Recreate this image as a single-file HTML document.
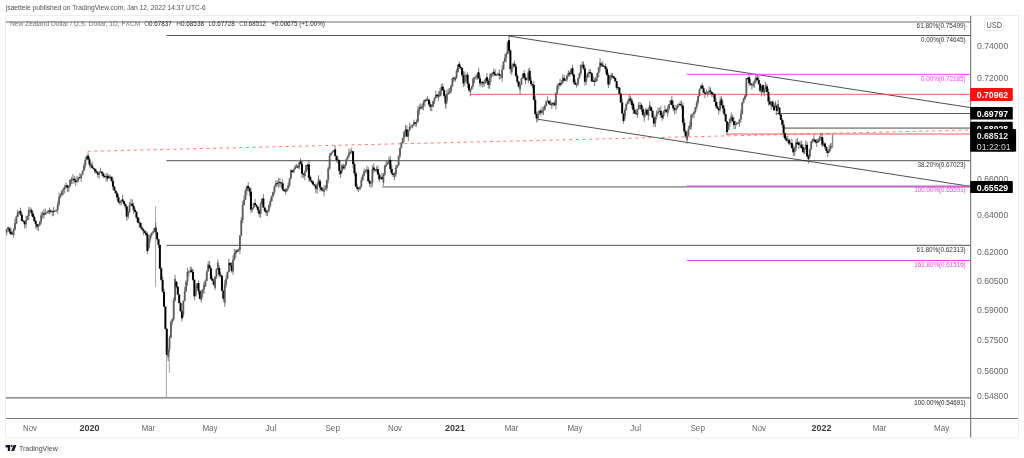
<!DOCTYPE html>
<html><head><meta charset="utf-8"><title>NZDUSD</title>
<style>
html,body{margin:0;padding:0;background:#fff;}
body{width:1024px;height:458px;overflow:hidden;font-family:'Liberation Sans',sans-serif;}
svg{display:block;font-family:'Liberation Sans',sans-serif;will-change:transform;transform:translateZ(0);}
svg text{font-family:'Liberation Sans',sans-serif;}
</style></head>
<body>
<svg width="1024" height="458" viewBox="0 0 1024 458">
<rect width="1024" height="458" fill="#fff"/>
<rect x="5.5" y="15.5" width="1013" height="422.5" fill="#fff" stroke="#eceef3" stroke-width="1"/>
<g stroke="#707070" stroke-width="1.2"><line x1="6" y1="22" x2="970.5" y2="22"/><line x1="6" y1="397.8" x2="970.5" y2="397.8"/><line x1="166.5" y1="160.7" x2="970.5" y2="160.7"/><line x1="166.5" y1="245.3" x2="970.5" y2="245.3"/></g>
<g stroke="#2a2a2a" stroke-width="0.8"><line x1="166.3" y1="35.5" x2="970.5" y2="35.5"/><line x1="382.3" y1="186.9" x2="970.5" y2="186.9"/><line x1="775.4" y1="113.5" x2="970.5" y2="113.5"/></g>
<g stroke="#222" stroke-width="0.8"><line x1="508.5" y1="36" x2="970.5" y2="107.6"/><line x1="537.5" y1="119.2" x2="970.5" y2="186.4"/></g>
<line x1="784" y1="128.2" x2="970.5" y2="128.2" stroke="#999" stroke-width="1.8"/>
<g stroke="#ff3ef0" stroke-width="1"><line x1="686.7" y1="74.3" x2="970.5" y2="74.3"/><line x1="686.7" y1="186" x2="970.5" y2="186"/><line x1="686.7" y1="260.5" x2="970.5" y2="260.5"/></g>
<g stroke="#ff4545" stroke-width="0.9"><line x1="469.7" y1="94.3" x2="970.5" y2="94.3"/><line x1="726.3" y1="134" x2="970.5" y2="134"/></g>
<line x1="87.7" y1="151.3" x2="970.5" y2="130" stroke="#ff5252" stroke-width="0.8" stroke-dasharray="2.9 3.7"/>
<g stroke="#666" stroke-width="0.85"><line x1="6.69" y1="228.55" x2="6.69" y2="235.50"/><line x1="8.07" y1="226.40" x2="8.07" y2="229.52"/><line x1="9.45" y1="227.79" x2="9.45" y2="233.89"/><line x1="10.83" y1="227.49" x2="10.83" y2="235.35"/><line x1="12.21" y1="231.35" x2="12.21" y2="235.05"/><line x1="13.59" y1="227.94" x2="13.59" y2="237.64"/><line x1="14.97" y1="218.80" x2="14.97" y2="230.94"/><line x1="16.35" y1="215.22" x2="16.35" y2="224.16"/><line x1="17.73" y1="209.80" x2="17.73" y2="217.32"/><line x1="19.11" y1="210.84" x2="19.11" y2="212.90"/><line x1="20.49" y1="207.66" x2="20.49" y2="215.77"/><line x1="21.87" y1="212.57" x2="21.87" y2="221.07"/><line x1="23.25" y1="219.71" x2="23.25" y2="222.30"/><line x1="24.63" y1="220.54" x2="24.63" y2="228.50"/><line x1="26.01" y1="215.80" x2="26.01" y2="228.00"/><line x1="27.39" y1="215.31" x2="27.39" y2="220.30"/><line x1="28.77" y1="207.07" x2="28.77" y2="220.11"/><line x1="30.15" y1="207.06" x2="30.15" y2="211.99"/><line x1="31.53" y1="208.50" x2="31.53" y2="216.30"/><line x1="32.91" y1="211.10" x2="32.91" y2="217.50"/><line x1="34.29" y1="215.40" x2="34.29" y2="221.93"/><line x1="35.67" y1="219.93" x2="35.67" y2="228.32"/><line x1="37.05" y1="223.82" x2="37.05" y2="230.07"/><line x1="38.43" y1="224.11" x2="38.43" y2="231.17"/><line x1="39.81" y1="220.78" x2="39.81" y2="225.90"/><line x1="41.19" y1="212.36" x2="41.19" y2="223.98"/><line x1="42.57" y1="211.20" x2="42.57" y2="218.36"/><line x1="43.95" y1="209.10" x2="43.95" y2="218.70"/><line x1="45.33" y1="208.52" x2="45.33" y2="215.10"/><line x1="46.71" y1="211.76" x2="46.71" y2="213.96"/><line x1="48.09" y1="210.15" x2="48.09" y2="213.79"/><line x1="49.47" y1="207.62" x2="49.47" y2="214.34"/><line x1="50.85" y1="209.41" x2="50.85" y2="213.31"/><line x1="52.23" y1="210.13" x2="52.23" y2="216.23"/><line x1="53.61" y1="206.81" x2="53.61" y2="216.11"/><line x1="54.99" y1="210.32" x2="54.99" y2="212.12"/><line x1="56.37" y1="209.31" x2="56.37" y2="212.16"/><line x1="57.75" y1="201.31" x2="57.75" y2="213.90"/><line x1="59.13" y1="192.64" x2="59.13" y2="205.81"/><line x1="60.51" y1="193.03" x2="60.51" y2="198.34"/><line x1="61.89" y1="190.48" x2="61.89" y2="195.53"/><line x1="63.27" y1="187.65" x2="63.27" y2="194.98"/><line x1="64.65" y1="184.88" x2="64.65" y2="193.35"/><line x1="66.03" y1="182.26" x2="66.03" y2="188.58"/><line x1="67.41" y1="184.65" x2="67.41" y2="191.87"/><line x1="68.79" y1="185.90" x2="68.79" y2="192.03"/><line x1="70.17" y1="179.19" x2="70.17" y2="186.80"/><line x1="71.55" y1="176.93" x2="71.55" y2="183.90"/><line x1="72.93" y1="174.11" x2="72.93" y2="183.78"/><line x1="74.31" y1="175.89" x2="74.31" y2="183.37"/><line x1="75.69" y1="177.37" x2="75.69" y2="186.20"/><line x1="77.07" y1="175.69" x2="77.07" y2="183.19"/><line x1="78.45" y1="177.21" x2="78.45" y2="182.09"/><line x1="79.83" y1="173.04" x2="79.83" y2="178.44"/><line x1="81.21" y1="174.14" x2="81.21" y2="182.07"/><line x1="82.59" y1="170.23" x2="82.59" y2="175.04"/><line x1="83.97" y1="163.18" x2="83.97" y2="171.13"/><line x1="85.35" y1="157.02" x2="85.35" y2="168.38"/><line x1="86.73" y1="155.39" x2="86.73" y2="160.62"/><line x1="88.11" y1="152.60" x2="88.11" y2="160.28"/><line x1="89.49" y1="157.08" x2="89.49" y2="167.47"/><line x1="90.87" y1="162.97" x2="90.87" y2="168.69"/><line x1="92.25" y1="161.49" x2="92.25" y2="168.18"/><line x1="93.63" y1="167.58" x2="93.63" y2="169.50"/><line x1="95.01" y1="168.20" x2="95.01" y2="173.55"/><line x1="96.39" y1="169.15" x2="96.39" y2="173.20"/><line x1="97.77" y1="171.10" x2="97.77" y2="177.45"/><line x1="99.15" y1="171.14" x2="99.15" y2="178.80"/><line x1="100.53" y1="167.70" x2="100.53" y2="172.46"/><line x1="101.91" y1="171.38" x2="101.91" y2="175.69"/><line x1="103.29" y1="172.49" x2="103.29" y2="177.75"/><line x1="104.67" y1="175.00" x2="104.67" y2="178.07"/><line x1="106.05" y1="173.12" x2="106.05" y2="181.22"/><line x1="107.43" y1="173.29" x2="107.43" y2="181.55"/><line x1="108.81" y1="174.36" x2="108.81" y2="178.77"/><line x1="110.19" y1="174.60" x2="110.19" y2="178.77"/><line x1="111.57" y1="176.50" x2="111.57" y2="182.37"/><line x1="112.95" y1="177.87" x2="112.95" y2="189.72"/><line x1="114.33" y1="185.72" x2="114.33" y2="190.91"/><line x1="115.71" y1="190.31" x2="115.71" y2="193.86"/><line x1="117.09" y1="191.76" x2="117.09" y2="200.32"/><line x1="118.47" y1="194.32" x2="118.47" y2="203.45"/><line x1="119.85" y1="201.47" x2="119.85" y2="205.36"/><line x1="121.23" y1="199.82" x2="121.23" y2="205.49"/><line x1="122.61" y1="194.56" x2="122.61" y2="202.22"/><line x1="123.99" y1="200.51" x2="123.99" y2="205.44"/><line x1="125.37" y1="203.64" x2="125.37" y2="209.51"/><line x1="126.75" y1="205.51" x2="126.75" y2="220.73"/><line x1="128.13" y1="210.33" x2="128.13" y2="219.10"/><line x1="129.51" y1="202.30" x2="129.51" y2="213.33"/><line x1="130.89" y1="198.92" x2="130.89" y2="205.60"/><line x1="132.27" y1="199.43" x2="132.27" y2="206.92"/><line x1="133.65" y1="202.92" x2="133.65" y2="213.99"/><line x1="135.03" y1="207.59" x2="135.03" y2="212.12"/><line x1="136.41" y1="211.22" x2="136.41" y2="218.85"/><line x1="137.79" y1="216.75" x2="137.79" y2="223.37"/><line x1="139.17" y1="218.02" x2="139.17" y2="227.32"/><line x1="140.55" y1="222.36" x2="140.55" y2="228.17"/><line x1="141.93" y1="226.07" x2="141.93" y2="229.88"/><line x1="143.31" y1="228.28" x2="143.31" y2="235.31"/><line x1="144.69" y1="230.11" x2="144.69" y2="233.28"/><line x1="146.07" y1="230.78" x2="146.07" y2="236.23"/><line x1="147.45" y1="232.20" x2="147.45" y2="254.20"/><line x1="148.83" y1="238.40" x2="148.83" y2="249.29"/><line x1="150.21" y1="233.86" x2="150.21" y2="242.43"/><line x1="151.59" y1="232.53" x2="151.59" y2="237.56"/><line x1="152.97" y1="230.92" x2="152.97" y2="234.40"/><line x1="154.35" y1="228.08" x2="154.35" y2="232.12"/><line x1="155.73" y1="222.64" x2="155.73" y2="234.52"/><line x1="157.11" y1="231.72" x2="157.11" y2="240.69"/><line x1="158.49" y1="238.89" x2="158.49" y2="247.88"/><line x1="159.87" y1="244.58" x2="159.87" y2="269.11"/><line x1="161.25" y1="267.01" x2="161.25" y2="281.34"/><line x1="162.63" y1="276.84" x2="162.63" y2="292.65"/><line x1="164.01" y1="288.65" x2="164.01" y2="306.88"/><line x1="165.39" y1="306.28" x2="165.39" y2="329.48"/><line x1="166.77" y1="327.88" x2="166.77" y2="355.53"/><line x1="168.15" y1="348.59" x2="168.15" y2="361.07"/><line x1="169.53" y1="335.51" x2="169.53" y2="352.19"/><line x1="170.91" y1="320.63" x2="170.91" y2="338.01"/><line x1="172.29" y1="318.18" x2="172.29" y2="325.13"/><line x1="173.67" y1="297.59" x2="173.67" y2="320.68"/><line x1="175.05" y1="274.80" x2="175.05" y2="301.59"/><line x1="176.43" y1="280.85" x2="176.43" y2="288.26"/><line x1="177.81" y1="286.16" x2="177.81" y2="294.93"/><line x1="179.19" y1="294.33" x2="179.19" y2="303.39"/><line x1="180.57" y1="302.09" x2="180.57" y2="311.56"/><line x1="181.95" y1="310.26" x2="181.95" y2="321.63"/><line x1="183.33" y1="300.53" x2="183.33" y2="317.19"/><line x1="184.71" y1="287.01" x2="184.71" y2="301.43"/><line x1="186.09" y1="280.22" x2="186.09" y2="292.21"/><line x1="187.47" y1="267.76" x2="187.47" y2="285.92"/><line x1="188.85" y1="270.38" x2="188.85" y2="276.48"/><line x1="190.23" y1="266.50" x2="190.23" y2="273.19"/><line x1="191.61" y1="267.09" x2="191.61" y2="272.43"/><line x1="192.99" y1="269.00" x2="192.99" y2="281.30"/><line x1="194.37" y1="279.20" x2="194.37" y2="300.16"/><line x1="195.75" y1="285.58" x2="195.75" y2="296.62"/><line x1="197.13" y1="283.00" x2="197.13" y2="288.78"/><line x1="198.51" y1="280.52" x2="198.51" y2="294.14"/><line x1="199.89" y1="289.64" x2="199.89" y2="299.03"/><line x1="201.27" y1="290.32" x2="201.27" y2="302.74"/><line x1="202.65" y1="288.80" x2="202.65" y2="297.52"/><line x1="204.03" y1="281.69" x2="204.03" y2="293.72"/><line x1="205.41" y1="279.23" x2="205.41" y2="286.60"/><line x1="206.79" y1="270.04" x2="206.79" y2="281.03"/><line x1="208.17" y1="261.09" x2="208.17" y2="271.84"/><line x1="209.55" y1="260.99" x2="209.55" y2="268.62"/><line x1="210.93" y1="267.32" x2="210.93" y2="279.60"/><line x1="212.31" y1="275.85" x2="212.31" y2="281.04"/><line x1="213.69" y1="278.54" x2="213.69" y2="285.73"/><line x1="215.07" y1="275.72" x2="215.07" y2="290.19"/><line x1="216.45" y1="268.25" x2="216.45" y2="278.92"/><line x1="217.83" y1="259.46" x2="217.83" y2="270.25"/><line x1="219.21" y1="265.08" x2="219.21" y2="277.58"/><line x1="220.59" y1="271.58" x2="220.59" y2="276.91"/><line x1="221.97" y1="274.91" x2="221.97" y2="291.72"/><line x1="223.35" y1="290.42" x2="223.35" y2="301.77"/><line x1="224.73" y1="280.24" x2="224.73" y2="306.86"/><line x1="226.11" y1="274.75" x2="226.11" y2="287.70"/><line x1="227.49" y1="271.62" x2="227.49" y2="279.25"/><line x1="228.87" y1="258.65" x2="228.87" y2="272.52"/><line x1="230.25" y1="262.55" x2="230.25" y2="266.65"/><line x1="231.63" y1="262.15" x2="231.63" y2="272.57"/><line x1="233.01" y1="255.40" x2="233.01" y2="274.90"/><line x1="234.39" y1="249.10" x2="234.39" y2="260.60"/><line x1="235.77" y1="249.36" x2="235.77" y2="258.16"/><line x1="237.15" y1="249.00" x2="237.15" y2="252.30"/><line x1="238.53" y1="248.58" x2="238.53" y2="251.65"/><line x1="239.91" y1="235.27" x2="239.91" y2="254.28"/><line x1="241.29" y1="217.14" x2="241.29" y2="236.57"/><line x1="242.67" y1="200.77" x2="242.67" y2="223.14"/><line x1="244.05" y1="195.44" x2="244.05" y2="205.57"/><line x1="245.43" y1="188.77" x2="245.43" y2="200.24"/><line x1="246.81" y1="185.51" x2="246.81" y2="195.17"/><line x1="248.19" y1="182.16" x2="248.19" y2="189.83"/><line x1="249.57" y1="187.33" x2="249.57" y2="195.78"/><line x1="250.95" y1="187.38" x2="250.95" y2="213.10"/><line x1="252.33" y1="207.52" x2="252.33" y2="212.26"/><line x1="253.71" y1="202.88" x2="253.71" y2="209.32"/><line x1="255.09" y1="198.80" x2="255.09" y2="205.48"/><line x1="256.47" y1="204.28" x2="256.47" y2="208.26"/><line x1="257.85" y1="206.46" x2="257.85" y2="213.01"/><line x1="259.23" y1="209.71" x2="259.23" y2="217.02"/><line x1="260.61" y1="201.96" x2="260.61" y2="217.89"/><line x1="261.99" y1="197.93" x2="261.99" y2="204.76"/><line x1="263.37" y1="193.94" x2="263.37" y2="207.86"/><line x1="264.75" y1="207.26" x2="264.75" y2="212.08"/><line x1="266.13" y1="208.88" x2="266.13" y2="215.86"/><line x1="267.51" y1="209.98" x2="267.51" y2="216.24"/><line x1="268.89" y1="204.25" x2="268.89" y2="212.20"/><line x1="270.27" y1="198.21" x2="270.27" y2="207.25"/><line x1="271.65" y1="195.47" x2="271.65" y2="201.81"/><line x1="273.03" y1="191.61" x2="273.03" y2="197.57"/><line x1="274.41" y1="185.13" x2="274.41" y2="194.41"/><line x1="275.79" y1="180.54" x2="275.79" y2="187.23"/><line x1="277.17" y1="180.19" x2="277.17" y2="186.29"/><line x1="278.55" y1="178.12" x2="278.55" y2="187.95"/><line x1="279.93" y1="177.83" x2="279.93" y2="187.08"/><line x1="281.31" y1="182.23" x2="281.31" y2="187.70"/><line x1="282.69" y1="179.24" x2="282.69" y2="190.63"/><line x1="284.07" y1="188.63" x2="284.07" y2="191.94"/><line x1="285.45" y1="188.34" x2="285.45" y2="194.74"/><line x1="286.83" y1="187.74" x2="286.83" y2="192.04"/><line x1="288.21" y1="182.36" x2="288.21" y2="189.74"/><line x1="289.59" y1="177.78" x2="289.59" y2="186.86"/><line x1="290.97" y1="169.30" x2="290.97" y2="178.98"/><line x1="292.35" y1="170.04" x2="292.35" y2="172.72"/><line x1="293.73" y1="168.43" x2="293.73" y2="173.12"/><line x1="295.11" y1="164.89" x2="295.11" y2="169.63"/><line x1="296.49" y1="164.10" x2="296.49" y2="167.76"/><line x1="297.87" y1="165.12" x2="297.87" y2="168.52"/><line x1="299.25" y1="162.06" x2="299.25" y2="169.43"/><line x1="300.63" y1="158.41" x2="300.63" y2="164.43"/><line x1="302.01" y1="160.83" x2="302.01" y2="177.82"/><line x1="303.39" y1="173.32" x2="303.39" y2="177.82"/><line x1="304.77" y1="170.36" x2="304.77" y2="180.18"/><line x1="306.15" y1="164.80" x2="306.15" y2="172.16"/><line x1="307.53" y1="163.52" x2="307.53" y2="170.12"/><line x1="308.91" y1="159.91" x2="308.91" y2="181.90"/><line x1="310.29" y1="175.56" x2="310.29" y2="181.36"/><line x1="311.67" y1="180.06" x2="311.67" y2="183.30"/><line x1="313.05" y1="181.00" x2="313.05" y2="184.80"/><line x1="314.43" y1="184.20" x2="314.43" y2="186.36"/><line x1="315.81" y1="183.56" x2="315.81" y2="192.90"/><line x1="317.19" y1="182.39" x2="317.19" y2="193.71"/><line x1="318.57" y1="175.28" x2="318.57" y2="185.59"/><line x1="319.95" y1="178.96" x2="319.95" y2="191.63"/><line x1="321.33" y1="186.83" x2="321.33" y2="191.29"/><line x1="322.71" y1="187.43" x2="322.71" y2="191.53"/><line x1="324.09" y1="185.23" x2="324.09" y2="196.32"/><line x1="325.47" y1="185.16" x2="325.47" y2="189.73"/><line x1="326.85" y1="179.68" x2="326.85" y2="191.16"/><line x1="328.23" y1="166.46" x2="328.23" y2="182.98"/><line x1="329.61" y1="153.22" x2="329.61" y2="169.66"/><line x1="330.99" y1="152.34" x2="330.99" y2="155.72"/><line x1="332.37" y1="150.58" x2="332.37" y2="153.94"/><line x1="333.75" y1="149.77" x2="333.75" y2="151.88"/><line x1="335.13" y1="145.43" x2="335.13" y2="156.88"/><line x1="336.51" y1="155.58" x2="336.51" y2="162.19"/><line x1="337.89" y1="156.71" x2="337.89" y2="163.61"/><line x1="339.27" y1="159.73" x2="339.27" y2="174.97"/><line x1="340.65" y1="170.27" x2="340.65" y2="178.00"/><line x1="342.03" y1="164.10" x2="342.03" y2="172.76"/><line x1="343.41" y1="163.71" x2="343.41" y2="169.30"/><line x1="344.79" y1="164.47" x2="344.79" y2="169.73"/><line x1="346.17" y1="158.39" x2="346.17" y2="165.37"/><line x1="347.55" y1="155.76" x2="347.55" y2="159.69"/><line x1="348.93" y1="148.42" x2="348.93" y2="157.86"/><line x1="350.31" y1="149.76" x2="350.31" y2="154.36"/><line x1="351.69" y1="147.62" x2="351.69" y2="153.71"/><line x1="353.07" y1="151.03" x2="353.07" y2="168.29"/><line x1="354.45" y1="162.59" x2="354.45" y2="176.25"/><line x1="355.83" y1="171.05" x2="355.83" y2="187.22"/><line x1="357.21" y1="183.62" x2="357.21" y2="190.90"/><line x1="358.59" y1="187.82" x2="358.59" y2="192.03"/><line x1="359.97" y1="186.08" x2="359.97" y2="190.38"/><line x1="361.35" y1="176.96" x2="361.35" y2="187.68"/><line x1="362.73" y1="174.01" x2="362.73" y2="180.96"/><line x1="364.11" y1="168.40" x2="364.11" y2="176.51"/><line x1="365.49" y1="169.33" x2="365.49" y2="172.38"/><line x1="366.87" y1="165.86" x2="366.87" y2="173.83"/><line x1="368.25" y1="167.24" x2="368.25" y2="182.00"/><line x1="369.63" y1="179.50" x2="369.63" y2="186.84"/><line x1="371.01" y1="181.22" x2="371.01" y2="187.78"/><line x1="372.39" y1="165.09" x2="372.39" y2="186.60"/><line x1="373.77" y1="163.45" x2="373.77" y2="172.88"/><line x1="375.15" y1="168.93" x2="375.15" y2="171.93"/><line x1="376.53" y1="166.33" x2="376.53" y2="171.88"/><line x1="377.91" y1="165.26" x2="377.91" y2="174.76"/><line x1="379.29" y1="172.96" x2="379.29" y2="182.15"/><line x1="380.67" y1="175.61" x2="380.67" y2="179.34"/><line x1="382.05" y1="172.91" x2="382.05" y2="179.59"/><line x1="383.43" y1="173.00" x2="383.43" y2="185.70"/><line x1="384.81" y1="164.90" x2="384.81" y2="176.00"/><line x1="386.19" y1="160.05" x2="386.19" y2="166.87"/><line x1="387.57" y1="161.52" x2="387.57" y2="164.70"/><line x1="388.95" y1="156.54" x2="388.95" y2="164.32"/><line x1="390.33" y1="156.11" x2="390.33" y2="171.93"/><line x1="391.71" y1="164.73" x2="391.71" y2="174.87"/><line x1="393.09" y1="173.07" x2="393.09" y2="177.15"/><line x1="394.47" y1="172.11" x2="394.47" y2="180.16"/><line x1="395.85" y1="164.80" x2="395.85" y2="176.76"/><line x1="397.23" y1="164.53" x2="397.23" y2="168.40"/><line x1="398.61" y1="155.24" x2="398.61" y2="166.13"/><line x1="399.99" y1="147.47" x2="399.99" y2="158.44"/><line x1="401.37" y1="142.14" x2="401.37" y2="148.37"/><line x1="402.75" y1="137.72" x2="402.75" y2="144.24"/><line x1="404.13" y1="130.77" x2="404.13" y2="142.22"/><line x1="405.51" y1="125.10" x2="405.51" y2="136.47"/><line x1="406.89" y1="125.33" x2="406.89" y2="137.13"/><line x1="408.27" y1="129.44" x2="408.27" y2="141.15"/><line x1="409.65" y1="122.70" x2="409.65" y2="130.74"/><line x1="411.03" y1="124.82" x2="411.03" y2="128.22"/><line x1="412.41" y1="124.49" x2="412.41" y2="128.52"/><line x1="413.79" y1="119.61" x2="413.79" y2="126.29"/><line x1="415.17" y1="121.90" x2="415.17" y2="126.62"/><line x1="416.55" y1="119.40" x2="416.55" y2="126.62"/><line x1="417.93" y1="106.20" x2="417.93" y2="122.20"/><line x1="419.31" y1="104.44" x2="419.31" y2="114.92"/><line x1="420.69" y1="103.21" x2="420.69" y2="108.91"/><line x1="422.07" y1="104.00" x2="422.07" y2="109.79"/><line x1="423.45" y1="100.07" x2="423.45" y2="110.40"/><line x1="424.83" y1="99.40" x2="424.83" y2="106.47"/><line x1="426.21" y1="98.23" x2="426.21" y2="101.23"/><line x1="427.59" y1="95.92" x2="427.59" y2="101.11"/><line x1="428.97" y1="99.46" x2="428.97" y2="106.00"/><line x1="430.35" y1="102.30" x2="430.35" y2="110.93"/><line x1="431.73" y1="104.09" x2="431.73" y2="111.26"/><line x1="433.11" y1="100.80" x2="433.11" y2="107.10"/><line x1="434.49" y1="97.30" x2="434.49" y2="104.10"/><line x1="435.87" y1="90.47" x2="435.87" y2="98.69"/><line x1="437.25" y1="94.37" x2="437.25" y2="98.21"/><line x1="438.63" y1="91.43" x2="438.63" y2="100.73"/><line x1="440.01" y1="88.16" x2="440.01" y2="96.44"/><line x1="441.39" y1="84.04" x2="441.39" y2="95.36"/><line x1="442.77" y1="83.13" x2="442.77" y2="90.57"/><line x1="444.15" y1="88.77" x2="444.15" y2="98.10"/><line x1="445.53" y1="94.40" x2="445.53" y2="108.13"/><line x1="446.91" y1="89.71" x2="446.91" y2="104.17"/><line x1="448.29" y1="88.43" x2="448.29" y2="94.91"/><line x1="449.67" y1="88.03" x2="449.67" y2="94.40"/><line x1="451.05" y1="84.78" x2="451.05" y2="93.23"/><line x1="452.43" y1="77.77" x2="452.43" y2="87.28"/><line x1="453.81" y1="76.40" x2="453.81" y2="81.94"/><line x1="455.19" y1="76.44" x2="455.19" y2="81.80"/><line x1="456.57" y1="68.70" x2="456.57" y2="78.94"/><line x1="457.95" y1="64.32" x2="457.95" y2="72.49"/><line x1="459.33" y1="61.50" x2="459.33" y2="69.21"/><line x1="460.71" y1="65.40" x2="460.71" y2="69.61"/><line x1="462.09" y1="67.51" x2="462.09" y2="76.70"/><line x1="463.47" y1="71.00" x2="463.47" y2="87.01"/><line x1="464.85" y1="71.40" x2="464.85" y2="86.21"/><line x1="466.23" y1="73.78" x2="466.23" y2="81.00"/><line x1="467.61" y1="72.18" x2="467.61" y2="88.03"/><line x1="468.99" y1="82.33" x2="468.99" y2="91.79"/><line x1="470.37" y1="88.73" x2="470.37" y2="96.33"/><line x1="471.75" y1="85.76" x2="471.75" y2="90.03"/><line x1="473.13" y1="77.20" x2="473.13" y2="87.36"/><line x1="474.51" y1="76.87" x2="474.51" y2="83.01"/><line x1="475.89" y1="75.13" x2="475.89" y2="79.73"/><line x1="477.27" y1="72.27" x2="477.27" y2="79.98"/><line x1="478.65" y1="67.75" x2="478.65" y2="78.80"/><line x1="480.03" y1="75.50" x2="480.03" y2="86.95"/><line x1="481.41" y1="81.52" x2="481.41" y2="85.72"/><line x1="482.79" y1="80.90" x2="482.79" y2="87.46"/><line x1="484.17" y1="79.75" x2="484.17" y2="86.66"/><line x1="485.55" y1="78.39" x2="485.55" y2="83.44"/><line x1="486.93" y1="73.00" x2="486.93" y2="83.16"/><line x1="488.31" y1="79.46" x2="488.31" y2="88.58"/><line x1="489.69" y1="73.44" x2="489.69" y2="89.04"/><line x1="491.07" y1="73.33" x2="491.07" y2="81.84"/><line x1="492.45" y1="72.62" x2="492.45" y2="76.02"/><line x1="493.83" y1="68.17" x2="493.83" y2="76.85"/><line x1="495.21" y1="69.51" x2="495.21" y2="75.67"/><line x1="496.59" y1="73.94" x2="496.59" y2="76.04"/><line x1="497.97" y1="72.26" x2="497.97" y2="75.66"/><line x1="499.35" y1="69.61" x2="499.35" y2="79.81"/><line x1="500.73" y1="74.55" x2="500.73" y2="79.05"/><line x1="502.11" y1="65.21" x2="502.11" y2="81.76"/><line x1="503.49" y1="61.06" x2="503.49" y2="69.71"/><line x1="504.87" y1="53.63" x2="504.87" y2="62.66"/><line x1="506.25" y1="51.75" x2="506.25" y2="62.03"/><line x1="507.63" y1="41.30" x2="507.63" y2="54.55"/><line x1="509.01" y1="35.84" x2="509.01" y2="52.94"/><line x1="510.39" y1="49.40" x2="510.39" y2="73.25"/><line x1="511.77" y1="64.95" x2="511.77" y2="75.26"/><line x1="513.15" y1="62.80" x2="513.15" y2="68.65"/><line x1="514.53" y1="60.53" x2="514.53" y2="67.01"/><line x1="515.91" y1="64.21" x2="515.91" y2="76.93"/><line x1="517.29" y1="73.73" x2="517.29" y2="83.76"/><line x1="518.67" y1="80.96" x2="518.67" y2="87.56"/><line x1="520.05" y1="83.59" x2="520.05" y2="94.36"/><line x1="521.43" y1="77.87" x2="521.43" y2="85.19"/><line x1="522.81" y1="72.80" x2="522.81" y2="79.07"/><line x1="524.19" y1="70.20" x2="524.19" y2="78.67"/><line x1="525.57" y1="74.67" x2="525.57" y2="84.28"/><line x1="526.95" y1="77.41" x2="526.95" y2="80.41"/><line x1="528.33" y1="68.45" x2="528.33" y2="83.14"/><line x1="529.71" y1="67.68" x2="529.71" y2="80.98"/><line x1="531.09" y1="76.48" x2="531.09" y2="86.18"/><line x1="532.47" y1="83.68" x2="532.47" y2="88.30"/><line x1="533.85" y1="80.80" x2="533.85" y2="100.72"/><line x1="535.23" y1="95.52" x2="535.23" y2="115.44"/><line x1="536.61" y1="111.74" x2="536.61" y2="122.56"/><line x1="537.99" y1="111.49" x2="537.99" y2="121.37"/><line x1="539.37" y1="110.43" x2="539.37" y2="114.69"/><line x1="540.75" y1="108.53" x2="540.75" y2="115.66"/><line x1="542.13" y1="106.51" x2="542.13" y2="114.30"/><line x1="543.51" y1="106.62" x2="543.51" y2="114.91"/><line x1="544.89" y1="104.53" x2="544.89" y2="110.62"/><line x1="546.27" y1="100.28" x2="546.27" y2="106.53"/><line x1="547.65" y1="96.23" x2="547.65" y2="102.49"/><line x1="549.03" y1="100.00" x2="549.03" y2="104.59"/><line x1="550.41" y1="99.39" x2="550.41" y2="105.13"/><line x1="551.79" y1="101.78" x2="551.79" y2="108.82"/><line x1="553.17" y1="102.29" x2="553.17" y2="105.99"/><line x1="554.55" y1="100.40" x2="554.55" y2="105.53"/><line x1="555.93" y1="92.26" x2="555.93" y2="109.43"/><line x1="557.31" y1="83.79" x2="557.31" y2="94.26"/><line x1="558.69" y1="83.15" x2="558.69" y2="88.99"/><line x1="560.07" y1="78.80" x2="560.07" y2="86.95"/><line x1="561.45" y1="80.08" x2="561.45" y2="85.60"/><line x1="562.83" y1="74.50" x2="562.83" y2="83.38"/><line x1="564.21" y1="75.11" x2="564.21" y2="81.06"/><line x1="565.59" y1="79.04" x2="565.59" y2="81.36"/><line x1="566.97" y1="74.65" x2="566.97" y2="81.84"/><line x1="568.35" y1="70.16" x2="568.35" y2="77.15"/><line x1="569.73" y1="71.25" x2="569.73" y2="76.60"/><line x1="571.11" y1="68.31" x2="571.11" y2="73.53"/><line x1="572.49" y1="64.86" x2="572.49" y2="75.92"/><line x1="573.87" y1="73.82" x2="573.87" y2="84.68"/><line x1="575.25" y1="79.48" x2="575.25" y2="84.83"/><line x1="576.63" y1="83.43" x2="576.63" y2="87.63"/><line x1="578.01" y1="77.69" x2="578.01" y2="86.03"/><line x1="579.39" y1="72.58" x2="579.39" y2="78.99"/><line x1="580.77" y1="64.60" x2="580.77" y2="75.78"/><line x1="582.15" y1="61.45" x2="582.15" y2="68.03"/><line x1="583.53" y1="61.45" x2="583.53" y2="69.93"/><line x1="584.91" y1="66.23" x2="584.91" y2="85.71"/><line x1="586.29" y1="74.83" x2="586.29" y2="84.81"/><line x1="587.67" y1="72.54" x2="587.67" y2="78.03"/><line x1="589.05" y1="69.11" x2="589.05" y2="77.59"/><line x1="590.43" y1="69.22" x2="590.43" y2="74.11"/><line x1="591.81" y1="72.78" x2="591.81" y2="81.70"/><line x1="593.19" y1="76.32" x2="593.19" y2="82.14"/><line x1="594.57" y1="78.16" x2="594.57" y2="86.18"/><line x1="595.95" y1="76.65" x2="595.95" y2="81.97"/><line x1="597.33" y1="72.56" x2="597.33" y2="81.15"/><line x1="598.71" y1="66.74" x2="598.71" y2="77.06"/><line x1="600.09" y1="57.96" x2="600.09" y2="71.54"/><line x1="601.47" y1="62.51" x2="601.47" y2="66.81"/><line x1="602.85" y1="61.08" x2="602.85" y2="67.18"/><line x1="604.23" y1="65.58" x2="604.23" y2="67.08"/><line x1="605.61" y1="63.50" x2="605.61" y2="73.50"/><line x1="606.99" y1="67.10" x2="606.99" y2="75.87"/><line x1="608.37" y1="72.67" x2="608.37" y2="88.17"/><line x1="609.75" y1="75.83" x2="609.75" y2="84.68"/><line x1="611.13" y1="72.90" x2="611.13" y2="80.23"/><line x1="612.51" y1="72.72" x2="612.51" y2="78.12"/><line x1="613.89" y1="75.94" x2="613.89" y2="78.90"/><line x1="615.27" y1="77.67" x2="615.27" y2="81.56"/><line x1="616.65" y1="80.96" x2="616.65" y2="89.90"/><line x1="618.03" y1="86.89" x2="618.03" y2="89.63"/><line x1="619.41" y1="87.10" x2="619.41" y2="94.42"/><line x1="620.79" y1="93.22" x2="620.79" y2="102.82"/><line x1="622.17" y1="98.32" x2="622.17" y2="113.84"/><line x1="623.55" y1="113.24" x2="623.55" y2="123.77"/><line x1="624.93" y1="107.74" x2="624.93" y2="119.00"/><line x1="626.31" y1="103.22" x2="626.31" y2="110.54"/><line x1="627.69" y1="100.05" x2="627.69" y2="104.42"/><line x1="629.07" y1="94.38" x2="629.07" y2="103.75"/><line x1="630.45" y1="95.44" x2="630.45" y2="102.78"/><line x1="631.83" y1="97.58" x2="631.83" y2="108.00"/><line x1="633.21" y1="102.19" x2="633.21" y2="113.93"/><line x1="634.59" y1="107.53" x2="634.59" y2="113.99"/><line x1="635.97" y1="110.75" x2="635.97" y2="114.85"/><line x1="637.35" y1="108.74" x2="637.35" y2="117.95"/><line x1="638.73" y1="102.00" x2="638.73" y2="109.34"/><line x1="640.11" y1="102.00" x2="640.11" y2="110.10"/><line x1="641.49" y1="103.51" x2="641.49" y2="112.08"/><line x1="642.87" y1="106.88" x2="642.87" y2="115.37"/><line x1="644.25" y1="111.72" x2="644.25" y2="121.82"/><line x1="645.63" y1="108.20" x2="645.63" y2="116.22"/><line x1="647.01" y1="108.30" x2="647.01" y2="114.95"/><line x1="648.39" y1="107.14" x2="648.39" y2="120.30"/><line x1="649.77" y1="101.15" x2="649.77" y2="110.74"/><line x1="651.15" y1="106.61" x2="651.15" y2="111.18"/><line x1="652.53" y1="109.88" x2="652.53" y2="118.22"/><line x1="653.91" y1="114.62" x2="653.91" y2="126.93"/><line x1="655.29" y1="116.41" x2="655.29" y2="127.18"/><line x1="656.67" y1="110.56" x2="656.67" y2="119.71"/><line x1="658.05" y1="107.56" x2="658.05" y2="114.56"/><line x1="659.43" y1="107.81" x2="659.43" y2="112.06"/><line x1="660.81" y1="106.10" x2="660.81" y2="118.18"/><line x1="662.19" y1="112.92" x2="662.19" y2="120.72"/><line x1="663.57" y1="110.08" x2="663.57" y2="118.96"/><line x1="664.95" y1="105.50" x2="664.95" y2="113.78"/><line x1="666.33" y1="108.76" x2="666.33" y2="112.87"/><line x1="667.71" y1="105.60" x2="667.71" y2="116.76"/><line x1="669.09" y1="103.82" x2="669.09" y2="110.80"/><line x1="670.47" y1="100.13" x2="670.47" y2="104.72"/><line x1="671.85" y1="95.97" x2="671.85" y2="105.52"/><line x1="673.23" y1="100.72" x2="673.23" y2="111.20"/><line x1="674.61" y1="107.37" x2="674.61" y2="114.29"/><line x1="675.99" y1="105.05" x2="675.99" y2="113.38"/><line x1="677.37" y1="104.41" x2="677.37" y2="109.55"/><line x1="678.75" y1="103.05" x2="678.75" y2="107.21"/><line x1="680.13" y1="100.97" x2="680.13" y2="106.34"/><line x1="681.51" y1="100.53" x2="681.51" y2="108.65"/><line x1="682.89" y1="102.65" x2="682.89" y2="125.62"/><line x1="684.27" y1="118.42" x2="684.27" y2="133.53"/><line x1="685.65" y1="129.83" x2="685.65" y2="137.87"/><line x1="687.03" y1="131.37" x2="687.03" y2="143.73"/><line x1="688.41" y1="126.17" x2="688.41" y2="135.96"/><line x1="689.79" y1="121.50" x2="689.79" y2="129.47"/><line x1="691.17" y1="113.87" x2="691.17" y2="129.70"/><line x1="692.55" y1="113.45" x2="692.55" y2="117.57"/><line x1="693.93" y1="111.02" x2="693.93" y2="118.25"/><line x1="695.31" y1="106.83" x2="695.31" y2="113.52"/><line x1="696.69" y1="100.49" x2="696.69" y2="109.63"/><line x1="698.07" y1="95.70" x2="698.07" y2="104.89"/><line x1="699.45" y1="88.49" x2="699.45" y2="96.60"/><line x1="700.83" y1="85.49" x2="700.83" y2="89.39"/><line x1="702.21" y1="82.87" x2="702.21" y2="88.68"/><line x1="703.59" y1="86.18" x2="703.59" y2="93.23"/><line x1="704.97" y1="91.49" x2="704.97" y2="98.17"/><line x1="706.35" y1="89.57" x2="706.35" y2="93.77"/><line x1="707.73" y1="91.38" x2="707.73" y2="96.92"/><line x1="709.11" y1="86.17" x2="709.11" y2="94.68"/><line x1="710.49" y1="87.58" x2="710.49" y2="95.14"/><line x1="711.87" y1="91.84" x2="711.87" y2="96.98"/><line x1="713.25" y1="93.33" x2="713.25" y2="97.53"/><line x1="714.63" y1="93.88" x2="714.63" y2="102.15"/><line x1="716.01" y1="97.65" x2="716.01" y2="108.56"/><line x1="717.39" y1="102.16" x2="717.39" y2="109.38"/><line x1="718.77" y1="107.78" x2="718.77" y2="114.50"/><line x1="720.15" y1="96.58" x2="720.15" y2="111.56"/><line x1="721.53" y1="96.30" x2="721.53" y2="105.46"/><line x1="722.91" y1="100.96" x2="722.91" y2="112.64"/><line x1="724.29" y1="105.44" x2="724.29" y2="115.78"/><line x1="725.67" y1="113.98" x2="725.67" y2="122.05"/><line x1="727.05" y1="120.85" x2="727.05" y2="135.31"/><line x1="728.43" y1="122.43" x2="728.43" y2="130.28"/><line x1="729.81" y1="118.55" x2="729.81" y2="126.93"/><line x1="731.19" y1="112.40" x2="731.19" y2="123.45"/><line x1="732.57" y1="114.40" x2="732.57" y2="121.51"/><line x1="733.95" y1="117.01" x2="733.95" y2="129.15"/><line x1="735.33" y1="120.90" x2="735.33" y2="129.03"/><line x1="736.71" y1="121.90" x2="736.71" y2="125.62"/><line x1="738.09" y1="122.30" x2="738.09" y2="124.10"/><line x1="739.47" y1="119.19" x2="739.47" y2="126.86"/><line x1="740.85" y1="109.67" x2="740.85" y2="122.49"/><line x1="742.23" y1="101.88" x2="742.23" y2="114.87"/><line x1="743.61" y1="97.50" x2="743.61" y2="103.48"/><line x1="744.99" y1="94.11" x2="744.99" y2="100.01"/><line x1="746.37" y1="77.80" x2="746.37" y2="97.10"/><line x1="747.75" y1="77.14" x2="747.75" y2="80.04"/><line x1="749.13" y1="74.37" x2="749.13" y2="86.25"/><line x1="750.51" y1="79.05" x2="750.51" y2="85.41"/><line x1="751.89" y1="83.39" x2="751.89" y2="89.49"/><line x1="753.27" y1="81.34" x2="753.27" y2="87.47"/><line x1="754.65" y1="79.26" x2="754.65" y2="87.74"/><line x1="756.03" y1="74.32" x2="756.03" y2="82.96"/><line x1="757.41" y1="74.94" x2="757.41" y2="80.37"/><line x1="758.79" y1="75.87" x2="758.79" y2="85.30"/><line x1="760.17" y1="83.50" x2="760.17" y2="92.30"/><line x1="761.55" y1="85.81" x2="761.55" y2="96.40"/><line x1="762.93" y1="84.80" x2="762.93" y2="92.72"/><line x1="764.31" y1="87.77" x2="764.31" y2="96.45"/><line x1="765.69" y1="81.79" x2="765.69" y2="91.47"/><line x1="767.07" y1="84.27" x2="767.07" y2="92.51"/><line x1="768.45" y1="88.91" x2="768.45" y2="105.69"/><line x1="769.83" y1="97.29" x2="769.83" y2="104.77"/><line x1="771.21" y1="100.91" x2="771.21" y2="109.80"/><line x1="772.59" y1="100.60" x2="772.59" y2="107.17"/><line x1="773.97" y1="104.80" x2="773.97" y2="110.60"/><line x1="775.35" y1="101.00" x2="775.35" y2="107.54"/><line x1="776.73" y1="104.85" x2="776.73" y2="115.30"/><line x1="778.11" y1="99.80" x2="778.11" y2="109.21"/><line x1="779.49" y1="107.28" x2="779.49" y2="115.56"/><line x1="780.87" y1="113.06" x2="780.87" y2="120.11"/><line x1="782.25" y1="118.31" x2="782.25" y2="127.66"/><line x1="783.63" y1="120.46" x2="783.63" y2="137.48"/><line x1="785.01" y1="132.68" x2="785.01" y2="139.89"/><line x1="786.39" y1="136.19" x2="786.39" y2="141.64"/><line x1="787.77" y1="135.60" x2="787.77" y2="142.90"/><line x1="789.15" y1="138.86" x2="789.15" y2="145.75"/><line x1="790.53" y1="142.10" x2="790.53" y2="144.78"/><line x1="791.91" y1="138.91" x2="791.91" y2="148.70"/><line x1="793.29" y1="145.10" x2="793.29" y2="156.06"/><line x1="794.67" y1="146.64" x2="794.67" y2="156.11"/><line x1="796.05" y1="139.29" x2="796.05" y2="151.14"/><line x1="797.43" y1="137.81" x2="797.43" y2="144.46"/><line x1="798.81" y1="141.20" x2="798.81" y2="149.22"/><line x1="800.19" y1="141.40" x2="800.19" y2="147.50"/><line x1="801.57" y1="140.53" x2="801.57" y2="148.50"/><line x1="802.95" y1="144.28" x2="802.95" y2="152.93"/><line x1="804.33" y1="147.63" x2="804.33" y2="154.00"/><line x1="805.71" y1="140.41" x2="805.71" y2="150.13"/><line x1="807.09" y1="141.83" x2="807.09" y2="156.69"/><line x1="808.47" y1="154.45" x2="808.47" y2="163.55"/><line x1="809.85" y1="148.62" x2="809.85" y2="157.40"/><line x1="811.23" y1="140.83" x2="811.23" y2="149.92"/><line x1="812.61" y1="138.60" x2="812.61" y2="142.93"/><line x1="813.99" y1="134.82" x2="813.99" y2="142.48"/><line x1="815.37" y1="139.34" x2="815.37" y2="143.58"/><line x1="816.75" y1="138.82" x2="816.75" y2="146.96"/><line x1="818.13" y1="138.40" x2="818.13" y2="143.06"/><line x1="819.51" y1="135.63" x2="819.51" y2="142.10"/><line x1="820.89" y1="132.85" x2="820.89" y2="140.95"/><line x1="822.27" y1="132.97" x2="822.27" y2="146.99"/><line x1="823.65" y1="140.68" x2="823.65" y2="146.20"/><line x1="825.03" y1="142.50" x2="825.03" y2="149.36"/><line x1="826.41" y1="146.16" x2="826.41" y2="153.11"/><line x1="827.79" y1="150.26" x2="827.79" y2="157.26"/><line x1="829.17" y1="144.94" x2="829.17" y2="153.20"/><line x1="830.55" y1="143.29" x2="830.55" y2="151.34"/><line x1="831.93" y1="142.69" x2="831.93" y2="147.70"/></g>
<g fill="#000"><rect x="5.79" y="229.15" width="1.8" height="3.35" fill="#5c5c5c"/><rect x="7.17" y="227.00" width="1.8" height="2.22" fill="#5c5c5c"/><rect x="8.45" y="228.39" width="2.0" height="3.30"/><rect x="9.83" y="231.69" width="2.0" height="2.17"/><rect x="11.21" y="233.55" width="2.0" height="0.90"/><rect x="12.69" y="229.44" width="1.8" height="5.56" fill="#5c5c5c"/><rect x="14.07" y="223.00" width="1.8" height="6.44" fill="#5c5c5c"/><rect x="15.45" y="216.72" width="1.8" height="6.84" fill="#5c5c5c"/><rect x="16.83" y="212.00" width="1.8" height="4.72" fill="#5c5c5c"/><rect x="18.21" y="211.44" width="1.8" height="1.17" fill="#5c5c5c"/><rect x="19.49" y="211.00" width="2.0" height="3.77"/><rect x="20.87" y="214.77" width="2.0" height="6.00"/><rect x="22.25" y="220.71" width="2.0" height="0.99"/><rect x="23.63" y="221.54" width="2.0" height="2.75"/><rect x="25.11" y="220.00" width="1.8" height="4.29" fill="#5c5c5c"/><rect x="26.49" y="215.91" width="1.8" height="4.09" fill="#5c5c5c"/><rect x="27.87" y="210.07" width="1.8" height="5.84" fill="#5c5c5c"/><rect x="29.25" y="209.59" width="1.8" height="0.90" fill="#5c5c5c"/><rect x="30.53" y="210.00" width="2.0" height="3.29"/><rect x="31.91" y="213.30" width="2.0" height="3.60"/><rect x="33.29" y="216.90" width="2.0" height="4.03"/><rect x="34.67" y="220.93" width="2.0" height="3.19"/><rect x="36.05" y="224.12" width="2.0" height="2.56"/><rect x="37.53" y="225.11" width="1.8" height="1.56" fill="#5c5c5c"/><rect x="38.91" y="221.78" width="1.8" height="3.52" fill="#5c5c5c"/><rect x="40.29" y="215.36" width="1.8" height="6.42" fill="#5c5c5c"/><rect x="41.67" y="213.40" width="1.8" height="1.96" fill="#5c5c5c"/><rect x="42.95" y="213.30" width="2.0" height="1.20"/><rect x="44.43" y="212.72" width="1.8" height="1.78" fill="#5c5c5c"/><rect x="45.81" y="212.06" width="1.8" height="0.90" fill="#5c5c5c"/><rect x="47.19" y="210.75" width="1.8" height="1.55" fill="#5c5c5c"/><rect x="48.47" y="210.44" width="2.0" height="0.90"/><rect x="49.85" y="210.91" width="2.0" height="0.90"/><rect x="51.33" y="211.13" width="1.8" height="0.90" fill="#5c5c5c"/><rect x="52.61" y="211.01" width="2.0" height="0.90"/><rect x="54.09" y="210.62" width="1.8" height="0.90" fill="#5c5c5c"/><rect x="55.47" y="209.61" width="1.8" height="1.05" fill="#5c5c5c"/><rect x="56.85" y="204.31" width="1.8" height="5.39" fill="#5c5c5c"/><rect x="58.23" y="196.84" width="1.8" height="7.46" fill="#5c5c5c"/><rect x="59.61" y="195.23" width="1.8" height="1.62" fill="#5c5c5c"/><rect x="60.99" y="190.78" width="1.8" height="4.44" fill="#5c5c5c"/><rect x="62.37" y="189.15" width="1.8" height="1.64" fill="#5c5c5c"/><rect x="63.75" y="187.08" width="1.8" height="2.07" fill="#5c5c5c"/><rect x="65.13" y="185.25" width="1.8" height="1.83" fill="#5c5c5c"/><rect x="66.41" y="185.25" width="2.0" height="2.42"/><rect x="67.89" y="186.20" width="1.8" height="1.80" fill="#5c5c5c"/><rect x="69.27" y="179.79" width="1.8" height="6.41" fill="#5c5c5c"/><rect x="70.65" y="179.13" width="1.8" height="1.77" fill="#5c5c5c"/><rect x="72.03" y="178.50" width="1.8" height="1.08" fill="#5c5c5c"/><rect x="73.31" y="178.89" width="2.0" height="1.48"/><rect x="74.69" y="180.37" width="2.0" height="1.63"/><rect x="76.17" y="179.89" width="1.8" height="1.80" fill="#5c5c5c"/><rect x="77.55" y="177.51" width="1.8" height="2.39" fill="#5c5c5c"/><rect x="78.83" y="177.24" width="2.0" height="0.90"/><rect x="80.31" y="174.44" width="1.8" height="3.43" fill="#5c5c5c"/><rect x="81.69" y="170.83" width="1.8" height="3.61" fill="#5c5c5c"/><rect x="83.07" y="165.38" width="1.8" height="5.45" fill="#5c5c5c"/><rect x="84.45" y="160.02" width="1.8" height="5.36" fill="#5c5c5c"/><rect x="85.83" y="156.39" width="1.8" height="3.63" fill="#5c5c5c"/><rect x="87.11" y="155.60" width="2.0" height="3.68"/><rect x="88.49" y="159.28" width="2.0" height="5.18"/><rect x="89.87" y="164.47" width="2.0" height="1.22"/><rect x="91.25" y="165.69" width="2.0" height="2.19"/><rect x="92.63" y="167.88" width="2.0" height="1.32"/><rect x="94.01" y="169.20" width="2.0" height="2.15"/><rect x="95.39" y="171.35" width="2.0" height="1.25"/><rect x="96.77" y="172.60" width="2.0" height="2.00"/><rect x="98.25" y="171.74" width="1.8" height="2.86" fill="#5c5c5c"/><rect x="99.63" y="171.26" width="1.8" height="0.90" fill="#5c5c5c"/><rect x="100.91" y="171.68" width="2.0" height="1.81"/><rect x="102.29" y="173.49" width="2.0" height="2.76"/><rect x="103.67" y="176.00" width="2.0" height="1.07"/><rect x="105.15" y="176.12" width="1.8" height="0.90" fill="#5c5c5c"/><rect x="106.43" y="175.91" width="2.0" height="2.59"/><rect x="107.81" y="176.56" width="2.0" height="1.60"/><rect x="109.29" y="176.80" width="1.8" height="1.37" fill="#5c5c5c"/><rect x="110.57" y="176.80" width="2.0" height="4.07"/><rect x="111.95" y="180.87" width="2.0" height="5.85"/><rect x="113.33" y="186.72" width="2.0" height="3.89"/><rect x="114.71" y="190.61" width="2.0" height="2.65"/><rect x="116.09" y="193.26" width="2.0" height="4.06"/><rect x="117.47" y="197.32" width="2.0" height="4.63"/><rect x="118.85" y="201.77" width="2.0" height="0.90"/><rect x="120.33" y="200.42" width="1.8" height="2.07" fill="#5c5c5c"/><rect x="121.61" y="199.30" width="2.0" height="1.92"/><rect x="122.99" y="201.11" width="2.0" height="2.83"/><rect x="124.37" y="203.94" width="2.0" height="2.57"/><rect x="125.75" y="206.51" width="2.0" height="10.13"/><rect x="127.23" y="211.83" width="1.8" height="4.81" fill="#5c5c5c"/><rect x="128.61" y="205.30" width="1.8" height="6.53" fill="#5c5c5c"/><rect x="129.99" y="203.63" width="1.8" height="1.67" fill="#5c5c5c"/><rect x="131.27" y="203.63" width="2.0" height="2.30"/><rect x="132.65" y="205.92" width="2.0" height="3.87"/><rect x="134.03" y="209.79" width="2.0" height="2.03"/><rect x="135.41" y="211.82" width="2.0" height="5.53"/><rect x="136.79" y="217.35" width="2.0" height="5.02"/><rect x="138.17" y="222.22" width="2.0" height="0.90"/><rect x="139.55" y="222.96" width="2.0" height="4.61"/><rect x="140.93" y="227.57" width="2.0" height="1.71"/><rect x="142.31" y="229.28" width="2.0" height="1.83"/><rect x="143.69" y="231.11" width="2.0" height="1.87"/><rect x="145.07" y="232.98" width="2.0" height="1.76"/><rect x="146.45" y="234.40" width="2.0" height="16.60"/><rect x="147.93" y="239.00" width="1.8" height="8.79" fill="#5c5c5c"/><rect x="149.31" y="235.36" width="1.8" height="4.07" fill="#5c5c5c"/><rect x="150.69" y="232.83" width="1.8" height="2.53" fill="#5c5c5c"/><rect x="152.07" y="231.52" width="1.8" height="1.38" fill="#5c5c5c"/><rect x="153.45" y="228.38" width="1.8" height="3.13" fill="#5c5c5c"/><rect x="154.73" y="227.40" width="2.0" height="4.92"/><rect x="156.11" y="232.32" width="2.0" height="6.88"/><rect x="157.49" y="239.19" width="2.0" height="5.69"/><rect x="158.87" y="244.88" width="2.0" height="23.63"/><rect x="160.25" y="268.51" width="2.0" height="11.33"/><rect x="161.63" y="279.84" width="2.0" height="11.81"/><rect x="163.01" y="291.65" width="2.0" height="14.93"/><rect x="164.39" y="306.58" width="2.0" height="22.30"/><rect x="165.77" y="328.88" width="2.0" height="26.05"/><rect x="167.25" y="349.19" width="1.8" height="7.61" fill="#5c5c5c"/><rect x="168.63" y="337.71" width="1.8" height="11.48" fill="#5c5c5c"/><rect x="170.01" y="322.13" width="1.8" height="15.58" fill="#5c5c5c"/><rect x="171.39" y="319.18" width="1.8" height="2.95" fill="#5c5c5c"/><rect x="172.77" y="300.59" width="1.8" height="18.59" fill="#5c5c5c"/><rect x="174.15" y="279.00" width="1.8" height="21.59" fill="#5c5c5c"/><rect x="175.43" y="281.85" width="2.0" height="4.92"/><rect x="176.81" y="286.76" width="2.0" height="7.86"/><rect x="178.19" y="294.63" width="2.0" height="8.46"/><rect x="179.57" y="303.09" width="2.0" height="8.18"/><rect x="180.95" y="311.26" width="2.0" height="7.04"/><rect x="182.43" y="300.83" width="1.8" height="14.16" fill="#5c5c5c"/><rect x="183.81" y="291.21" width="1.8" height="9.63" fill="#5c5c5c"/><rect x="185.19" y="281.72" width="1.8" height="9.49" fill="#5c5c5c"/><rect x="186.57" y="271.96" width="1.8" height="9.75" fill="#5c5c5c"/><rect x="187.95" y="271.38" width="1.8" height="0.90" fill="#5c5c5c"/><rect x="189.33" y="270.70" width="1.8" height="0.99" fill="#5c5c5c"/><rect x="190.61" y="269.80" width="2.0" height="2.33"/><rect x="191.99" y="272.00" width="2.0" height="7.80"/><rect x="193.37" y="279.80" width="2.0" height="16.50"/><rect x="194.85" y="287.78" width="1.8" height="7.34" fill="#5c5c5c"/><rect x="196.23" y="283.60" width="1.8" height="4.18" fill="#5c5c5c"/><rect x="197.51" y="283.00" width="2.0" height="8.14"/><rect x="198.89" y="291.14" width="2.0" height="7.59"/><rect x="200.37" y="293.32" width="1.8" height="6.68" fill="#5c5c5c"/><rect x="201.75" y="289.40" width="1.8" height="3.92" fill="#5c5c5c"/><rect x="203.13" y="284.69" width="1.8" height="4.83" fill="#5c5c5c"/><rect x="204.51" y="280.73" width="1.8" height="5.57" fill="#5c5c5c"/><rect x="205.89" y="271.54" width="1.8" height="9.19" fill="#5c5c5c"/><rect x="207.27" y="264.30" width="1.8" height="7.24" fill="#5c5c5c"/><rect x="208.55" y="265.19" width="2.0" height="3.14"/><rect x="209.93" y="268.32" width="2.0" height="10.68"/><rect x="211.31" y="278.85" width="2.0" height="1.89"/><rect x="212.69" y="280.74" width="2.0" height="3.98"/><rect x="214.17" y="276.72" width="1.8" height="11.18" fill="#5c5c5c"/><rect x="215.55" y="269.25" width="1.8" height="7.46" fill="#5c5c5c"/><rect x="216.93" y="262.70" width="1.8" height="6.55" fill="#5c5c5c"/><rect x="218.21" y="268.08" width="2.0" height="6.50"/><rect x="219.59" y="274.58" width="2.0" height="1.33"/><rect x="220.97" y="275.91" width="2.0" height="14.81"/><rect x="222.35" y="290.72" width="2.0" height="8.04"/><rect x="223.83" y="284.44" width="1.8" height="18.16" fill="#5c5c5c"/><rect x="225.21" y="278.95" width="1.8" height="5.75" fill="#5c5c5c"/><rect x="226.59" y="271.92" width="1.8" height="7.03" fill="#5c5c5c"/><rect x="227.97" y="262.85" width="1.8" height="9.07" fill="#5c5c5c"/><rect x="229.25" y="262.85" width="2.0" height="2.29"/><rect x="230.63" y="265.15" width="2.0" height="5.92"/><rect x="232.11" y="259.60" width="1.8" height="11.80" fill="#5c5c5c"/><rect x="233.49" y="253.30" width="1.8" height="6.30" fill="#5c5c5c"/><rect x="234.87" y="250.86" width="1.8" height="3.11" fill="#5c5c5c"/><rect x="236.15" y="250.50" width="2.0" height="1.20"/><rect x="237.63" y="250.08" width="1.8" height="0.97" fill="#5c5c5c"/><rect x="239.01" y="235.57" width="1.8" height="14.52" fill="#5c5c5c"/><rect x="240.39" y="220.14" width="1.8" height="15.43" fill="#5c5c5c"/><rect x="241.77" y="204.97" width="1.8" height="15.16" fill="#5c5c5c"/><rect x="243.15" y="199.64" width="1.8" height="5.34" fill="#5c5c5c"/><rect x="244.53" y="190.97" width="1.8" height="8.66" fill="#5c5c5c"/><rect x="245.91" y="186.51" width="1.8" height="4.46" fill="#5c5c5c"/><rect x="247.19" y="186.00" width="2.0" height="2.33"/><rect x="248.57" y="188.33" width="2.0" height="3.25"/><rect x="249.95" y="191.58" width="2.0" height="18.11"/><rect x="251.43" y="207.82" width="1.8" height="1.87" fill="#5c5c5c"/><rect x="252.81" y="203.48" width="1.8" height="4.34" fill="#5c5c5c"/><rect x="254.09" y="203.00" width="2.0" height="1.88"/><rect x="255.47" y="204.88" width="2.0" height="1.88"/><rect x="256.85" y="206.76" width="2.0" height="3.25"/><rect x="258.23" y="210.01" width="2.0" height="3.76"/><rect x="259.71" y="204.16" width="1.8" height="9.60" fill="#5c5c5c"/><rect x="261.09" y="198.93" width="1.8" height="5.23" fill="#5c5c5c"/><rect x="262.37" y="198.50" width="2.0" height="9.06"/><rect x="263.75" y="207.56" width="2.0" height="3.52"/><rect x="265.13" y="211.08" width="2.0" height="1.46"/><rect x="266.61" y="210.58" width="1.8" height="1.97" fill="#5c5c5c"/><rect x="267.99" y="205.75" width="1.8" height="4.95" fill="#5c5c5c"/><rect x="269.37" y="201.21" width="1.8" height="4.55" fill="#5c5c5c"/><rect x="270.75" y="196.07" width="1.8" height="5.14" fill="#5c5c5c"/><rect x="272.13" y="192.21" width="1.8" height="3.85" fill="#5c5c5c"/><rect x="273.51" y="186.63" width="1.8" height="5.58" fill="#5c5c5c"/><rect x="274.89" y="183.54" width="1.8" height="3.09" fill="#5c5c5c"/><rect x="276.17" y="183.19" width="2.0" height="0.90"/><rect x="277.65" y="182.32" width="1.8" height="1.42" fill="#5c5c5c"/><rect x="278.93" y="181.98" width="2.0" height="0.90"/><rect x="280.31" y="182.53" width="2.0" height="0.97"/><rect x="281.69" y="183.44" width="2.0" height="6.19"/><rect x="283.07" y="189.63" width="2.0" height="1.32"/><rect x="284.45" y="190.54" width="2.0" height="0.90"/><rect x="285.93" y="188.74" width="1.8" height="2.31" fill="#5c5c5c"/><rect x="287.31" y="185.36" width="1.8" height="3.38" fill="#5c5c5c"/><rect x="288.69" y="178.38" width="1.8" height="6.98" fill="#5c5c5c"/><rect x="290.07" y="169.90" width="1.8" height="8.48" fill="#5c5c5c"/><rect x="291.35" y="170.64" width="2.0" height="1.48"/><rect x="292.83" y="169.03" width="1.8" height="3.08" fill="#5c5c5c"/><rect x="294.21" y="167.09" width="1.8" height="1.94" fill="#5c5c5c"/><rect x="295.59" y="165.10" width="1.8" height="2.36" fill="#5c5c5c"/><rect x="296.87" y="166.62" width="2.0" height="0.90"/><rect x="298.35" y="162.66" width="1.8" height="4.57" fill="#5c5c5c"/><rect x="299.63" y="161.20" width="2.0" height="2.63"/><rect x="301.01" y="163.83" width="2.0" height="9.79"/><rect x="302.39" y="173.62" width="2.0" height="1.20"/><rect x="303.87" y="171.86" width="1.8" height="4.24" fill="#5c5c5c"/><rect x="305.25" y="165.10" width="1.8" height="6.76" fill="#5c5c5c"/><rect x="306.53" y="165.02" width="2.0" height="0.90"/><rect x="307.91" y="164.40" width="2.0" height="13.30"/><rect x="309.29" y="177.06" width="2.0" height="3.30"/><rect x="310.67" y="180.36" width="2.0" height="1.95"/><rect x="312.05" y="181.60" width="2.0" height="2.90"/><rect x="313.43" y="184.50" width="2.0" height="1.26"/><rect x="314.81" y="185.76" width="2.0" height="2.94"/><rect x="316.29" y="184.59" width="1.8" height="4.91" fill="#5c5c5c"/><rect x="317.67" y="179.30" width="1.8" height="5.29" fill="#5c5c5c"/><rect x="318.95" y="181.16" width="2.0" height="6.27"/><rect x="320.33" y="187.43" width="2.0" height="2.36"/><rect x="321.71" y="189.63" width="2.0" height="0.90"/><rect x="323.19" y="189.43" width="1.8" height="2.47" fill="#5c5c5c"/><rect x="324.57" y="188.16" width="1.8" height="1.27" fill="#5c5c5c"/><rect x="325.95" y="179.98" width="1.8" height="8.18" fill="#5c5c5c"/><rect x="327.33" y="168.66" width="1.8" height="11.32" fill="#5c5c5c"/><rect x="328.71" y="155.42" width="1.8" height="13.24" fill="#5c5c5c"/><rect x="330.09" y="152.94" width="1.8" height="2.48" fill="#5c5c5c"/><rect x="331.47" y="151.58" width="1.8" height="1.36" fill="#5c5c5c"/><rect x="332.85" y="150.37" width="1.8" height="1.21" fill="#5c5c5c"/><rect x="334.13" y="149.40" width="2.0" height="6.48"/><rect x="335.51" y="155.88" width="2.0" height="4.11"/><rect x="336.89" y="159.71" width="2.0" height="0.90"/><rect x="338.27" y="160.33" width="2.0" height="10.44"/><rect x="339.65" y="170.57" width="2.0" height="3.23"/><rect x="341.13" y="165.10" width="1.8" height="6.16" fill="#5c5c5c"/><rect x="342.41" y="166.71" width="2.0" height="1.59"/><rect x="343.89" y="165.07" width="1.8" height="2.46" fill="#5c5c5c"/><rect x="345.27" y="159.39" width="1.8" height="5.69" fill="#5c5c5c"/><rect x="346.65" y="156.36" width="1.8" height="3.03" fill="#5c5c5c"/><rect x="348.03" y="152.62" width="1.8" height="3.74" fill="#5c5c5c"/><rect x="349.41" y="151.96" width="1.8" height="0.90" fill="#5c5c5c"/><rect x="350.79" y="151.00" width="1.8" height="1.21" fill="#5c5c5c"/><rect x="352.07" y="151.33" width="2.0" height="12.75"/><rect x="353.45" y="164.09" width="2.0" height="9.17"/><rect x="354.83" y="173.25" width="2.0" height="13.36"/><rect x="356.21" y="186.62" width="2.0" height="2.08"/><rect x="357.59" y="188.12" width="2.0" height="0.90"/><rect x="359.07" y="186.68" width="1.8" height="2.20" fill="#5c5c5c"/><rect x="360.45" y="179.96" width="1.8" height="6.72" fill="#5c5c5c"/><rect x="361.83" y="175.51" width="1.8" height="4.45" fill="#5c5c5c"/><rect x="363.21" y="171.40" width="1.8" height="4.11" fill="#5c5c5c"/><rect x="364.59" y="170.83" width="1.8" height="1.24" fill="#5c5c5c"/><rect x="365.97" y="169.69" width="1.8" height="1.14" fill="#5c5c5c"/><rect x="367.25" y="169.69" width="2.0" height="11.31"/><rect x="368.63" y="181.00" width="2.0" height="2.54"/><rect x="370.11" y="181.52" width="1.8" height="2.03" fill="#5c5c5c"/><rect x="371.49" y="169.29" width="1.8" height="13.11" fill="#5c5c5c"/><rect x="372.77" y="167.50" width="2.0" height="2.38"/><rect x="374.15" y="169.53" width="2.0" height="0.90"/><rect x="375.63" y="169.33" width="1.8" height="1.05" fill="#5c5c5c"/><rect x="376.91" y="169.10" width="2.0" height="5.36"/><rect x="378.29" y="174.46" width="2.0" height="4.84"/><rect x="379.77" y="177.11" width="1.8" height="1.93" fill="#5c5c5c"/><rect x="381.05" y="177.11" width="2.0" height="2.18"/><rect x="382.53" y="174.50" width="1.8" height="7.90" fill="#5c5c5c"/><rect x="383.91" y="165.90" width="1.8" height="8.60" fill="#5c5c5c"/><rect x="385.29" y="164.25" width="1.8" height="2.02" fill="#5c5c5c"/><rect x="386.67" y="162.12" width="1.8" height="2.28" fill="#5c5c5c"/><rect x="388.05" y="159.92" width="1.8" height="2.20" fill="#5c5c5c"/><rect x="389.33" y="159.92" width="2.0" height="9.01"/><rect x="390.71" y="168.93" width="2.0" height="4.44"/><rect x="392.09" y="173.37" width="2.0" height="1.58"/><rect x="393.57" y="174.31" width="1.8" height="2.59" fill="#5c5c5c"/><rect x="394.95" y="167.80" width="1.8" height="6.76" fill="#5c5c5c"/><rect x="396.33" y="165.13" width="1.8" height="2.66" fill="#5c5c5c"/><rect x="397.71" y="156.24" width="1.8" height="8.89" fill="#5c5c5c"/><rect x="399.09" y="148.07" width="1.8" height="8.17" fill="#5c5c5c"/><rect x="400.47" y="142.74" width="1.8" height="5.34" fill="#5c5c5c"/><rect x="401.85" y="138.02" width="1.8" height="4.71" fill="#5c5c5c"/><rect x="403.23" y="132.27" width="1.8" height="5.75" fill="#5c5c5c"/><rect x="404.61" y="129.30" width="1.8" height="2.97" fill="#5c5c5c"/><rect x="405.89" y="129.53" width="2.0" height="7.00"/><rect x="407.37" y="130.44" width="1.8" height="6.09" fill="#5c5c5c"/><rect x="408.75" y="126.90" width="1.8" height="3.54" fill="#5c5c5c"/><rect x="410.13" y="126.32" width="1.8" height="0.90" fill="#5c5c5c"/><rect x="411.51" y="124.79" width="1.8" height="1.54" fill="#5c5c5c"/><rect x="412.89" y="122.61" width="1.8" height="2.17" fill="#5c5c5c"/><rect x="414.17" y="122.20" width="2.0" height="1.42"/><rect x="415.65" y="121.60" width="1.8" height="2.02" fill="#5c5c5c"/><rect x="417.03" y="110.40" width="1.8" height="11.20" fill="#5c5c5c"/><rect x="418.41" y="107.44" width="1.8" height="3.28" fill="#5c5c5c"/><rect x="419.69" y="107.41" width="2.0" height="0.90"/><rect x="421.17" y="106.20" width="1.8" height="2.10" fill="#5c5c5c"/><rect x="422.55" y="102.27" width="1.8" height="3.92" fill="#5c5c5c"/><rect x="423.93" y="100.00" width="1.8" height="2.27" fill="#5c5c5c"/><rect x="425.21" y="99.73" width="2.0" height="0.90"/><rect x="426.69" y="98.60" width="1.8" height="1.91" fill="#5c5c5c"/><rect x="427.97" y="99.76" width="2.0" height="4.74"/><rect x="429.35" y="104.50" width="2.0" height="2.53"/><rect x="430.83" y="105.59" width="1.8" height="1.45" fill="#5c5c5c"/><rect x="432.21" y="101.10" width="1.8" height="5.40" fill="#5c5c5c"/><rect x="433.59" y="97.90" width="1.8" height="3.20" fill="#5c5c5c"/><rect x="434.97" y="94.67" width="1.8" height="3.42" fill="#5c5c5c"/><rect x="436.25" y="94.67" width="2.0" height="1.35"/><rect x="437.63" y="95.63" width="2.0" height="0.90"/><rect x="439.11" y="91.16" width="1.8" height="4.98" fill="#5c5c5c"/><rect x="440.49" y="87.04" width="1.8" height="4.11" fill="#5c5c5c"/><rect x="441.77" y="86.60" width="2.0" height="3.67"/><rect x="443.15" y="90.27" width="2.0" height="5.63"/><rect x="444.53" y="95.90" width="2.0" height="7.50"/><rect x="446.01" y="93.91" width="1.8" height="7.26" fill="#5c5c5c"/><rect x="447.39" y="92.63" width="1.8" height="1.28" fill="#5c5c5c"/><rect x="448.77" y="91.03" width="1.8" height="1.87" fill="#5c5c5c"/><rect x="450.15" y="85.78" width="1.8" height="5.26" fill="#5c5c5c"/><rect x="451.53" y="78.37" width="1.8" height="7.41" fill="#5c5c5c"/><rect x="452.81" y="77.90" width="2.0" height="1.04"/><rect x="454.29" y="77.44" width="1.8" height="2.86" fill="#5c5c5c"/><rect x="455.67" y="70.90" width="1.8" height="6.54" fill="#5c5c5c"/><rect x="457.05" y="64.92" width="1.8" height="7.27" fill="#5c5c5c"/><rect x="458.33" y="63.80" width="2.0" height="3.21"/><rect x="459.71" y="66.90" width="2.0" height="1.21"/><rect x="461.09" y="68.11" width="2.0" height="7.09"/><rect x="462.47" y="75.20" width="2.0" height="8.20"/><rect x="463.95" y="75.60" width="1.8" height="6.41" fill="#5c5c5c"/><rect x="465.33" y="75.28" width="1.8" height="1.52" fill="#5c5c5c"/><rect x="466.61" y="74.80" width="2.0" height="9.03"/><rect x="467.99" y="83.83" width="2.0" height="6.47"/><rect x="469.47" y="89.03" width="1.8" height="3.07" fill="#5c5c5c"/><rect x="470.85" y="86.36" width="1.8" height="2.67" fill="#5c5c5c"/><rect x="472.23" y="78.70" width="1.8" height="7.66" fill="#5c5c5c"/><rect x="473.61" y="77.17" width="1.8" height="1.63" fill="#5c5c5c"/><rect x="474.99" y="76.63" width="1.8" height="0.90" fill="#5c5c5c"/><rect x="476.37" y="74.47" width="1.8" height="2.52" fill="#5c5c5c"/><rect x="477.65" y="72.40" width="2.0" height="6.10"/><rect x="479.03" y="78.50" width="2.0" height="4.90"/><rect x="480.51" y="81.82" width="1.8" height="0.90" fill="#5c5c5c"/><rect x="481.79" y="81.90" width="2.0" height="1.36"/><rect x="483.27" y="82.75" width="1.8" height="1.45" fill="#5c5c5c"/><rect x="484.65" y="78.69" width="1.8" height="4.46" fill="#5c5c5c"/><rect x="485.93" y="77.20" width="2.0" height="3.76"/><rect x="487.31" y="80.96" width="2.0" height="4.02"/><rect x="488.79" y="77.64" width="1.8" height="7.34" fill="#5c5c5c"/><rect x="490.17" y="73.63" width="1.8" height="4.01" fill="#5c5c5c"/><rect x="491.55" y="72.92" width="1.8" height="0.90" fill="#5c5c5c"/><rect x="492.83" y="71.70" width="2.0" height="2.15"/><rect x="494.21" y="73.71" width="2.0" height="1.66"/><rect x="495.69" y="74.54" width="1.8" height="0.90" fill="#5c5c5c"/><rect x="497.07" y="73.76" width="1.8" height="0.90" fill="#5c5c5c"/><rect x="498.35" y="73.81" width="2.0" height="1.81"/><rect x="499.83" y="75.15" width="1.8" height="0.90" fill="#5c5c5c"/><rect x="501.21" y="69.41" width="1.8" height="8.49" fill="#5c5c5c"/><rect x="502.59" y="61.66" width="1.8" height="7.75" fill="#5c5c5c"/><rect x="503.97" y="57.83" width="1.8" height="3.82" fill="#5c5c5c"/><rect x="505.35" y="53.95" width="1.8" height="3.89" fill="#5c5c5c"/><rect x="506.73" y="42.30" width="1.8" height="11.65" fill="#5c5c5c"/><rect x="508.01" y="40.20" width="2.0" height="10.54"/><rect x="509.39" y="50.40" width="2.0" height="18.65"/><rect x="510.87" y="66.45" width="1.8" height="5.25" fill="#5c5c5c"/><rect x="512.25" y="63.80" width="1.8" height="2.65" fill="#5c5c5c"/><rect x="513.53" y="63.80" width="2.0" height="2.61"/><rect x="514.91" y="66.41" width="2.0" height="9.52"/><rect x="516.29" y="75.93" width="2.0" height="5.62"/><rect x="517.67" y="81.56" width="2.0" height="5.00"/><rect x="519.15" y="84.59" width="1.8" height="5.11" fill="#5c5c5c"/><rect x="520.53" y="78.47" width="1.8" height="6.13" fill="#5c5c5c"/><rect x="521.91" y="74.30" width="1.8" height="4.16" fill="#5c5c5c"/><rect x="523.19" y="73.20" width="2.0" height="4.47"/><rect x="524.57" y="77.67" width="2.0" height="2.63"/><rect x="526.05" y="78.91" width="1.8" height="0.90" fill="#5c5c5c"/><rect x="527.43" y="72.65" width="1.8" height="6.29" fill="#5c5c5c"/><rect x="528.71" y="70.90" width="2.0" height="9.78"/><rect x="530.09" y="80.68" width="2.0" height="3.29"/><rect x="531.47" y="83.98" width="2.0" height="1.32"/><rect x="532.85" y="85.00" width="2.0" height="14.72"/><rect x="534.23" y="99.72" width="2.0" height="14.23"/><rect x="535.61" y="113.94" width="2.0" height="4.43"/><rect x="537.09" y="113.69" width="1.8" height="4.68" fill="#5c5c5c"/><rect x="538.47" y="110.73" width="1.8" height="2.96" fill="#5c5c5c"/><rect x="539.75" y="110.73" width="2.0" height="1.93"/><rect x="541.23" y="110.71" width="1.8" height="2.09" fill="#5c5c5c"/><rect x="542.61" y="109.62" width="1.8" height="1.09" fill="#5c5c5c"/><rect x="543.99" y="105.53" width="1.8" height="4.10" fill="#5c5c5c"/><rect x="545.37" y="101.78" width="1.8" height="3.75" fill="#5c5c5c"/><rect x="546.75" y="100.99" width="1.8" height="0.90" fill="#5c5c5c"/><rect x="548.03" y="101.00" width="2.0" height="2.59"/><rect x="549.41" y="103.59" width="2.0" height="1.23"/><rect x="550.89" y="103.28" width="1.8" height="2.42" fill="#5c5c5c"/><rect x="552.17" y="102.89" width="2.0" height="0.90"/><rect x="553.55" y="103.40" width="2.0" height="1.83"/><rect x="555.03" y="93.26" width="1.8" height="11.97" fill="#5c5c5c"/><rect x="556.41" y="85.99" width="1.8" height="7.27" fill="#5c5c5c"/><rect x="557.79" y="84.15" width="1.8" height="1.84" fill="#5c5c5c"/><rect x="559.07" y="83.00" width="2.0" height="1.75"/><rect x="560.55" y="83.08" width="1.8" height="1.52" fill="#5c5c5c"/><rect x="561.93" y="77.50" width="1.8" height="5.58" fill="#5c5c5c"/><rect x="563.21" y="78.11" width="2.0" height="2.65"/><rect x="564.69" y="79.64" width="1.8" height="1.13" fill="#5c5c5c"/><rect x="566.07" y="75.65" width="1.8" height="3.99" fill="#5c5c5c"/><rect x="567.45" y="73.16" width="1.8" height="2.49" fill="#5c5c5c"/><rect x="568.73" y="72.75" width="2.0" height="1.65"/><rect x="570.21" y="69.31" width="1.8" height="3.92" fill="#5c5c5c"/><rect x="571.49" y="68.10" width="2.0" height="6.32"/><rect x="572.87" y="74.42" width="2.0" height="8.06"/><rect x="574.25" y="82.48" width="2.0" height="2.05"/><rect x="575.73" y="83.73" width="1.8" height="1.67" fill="#5c5c5c"/><rect x="577.11" y="77.99" width="1.8" height="5.84" fill="#5c5c5c"/><rect x="578.49" y="73.58" width="1.8" height="4.41" fill="#5c5c5c"/><rect x="579.87" y="64.90" width="1.8" height="8.68" fill="#5c5c5c"/><rect x="581.25" y="64.74" width="1.8" height="1.09" fill="#5c5c5c"/><rect x="582.53" y="64.74" width="2.0" height="3.69"/><rect x="583.91" y="68.43" width="2.0" height="13.26"/><rect x="585.39" y="77.03" width="1.8" height="4.66" fill="#5c5c5c"/><rect x="586.77" y="73.14" width="1.8" height="3.89" fill="#5c5c5c"/><rect x="588.15" y="72.00" width="1.8" height="1.39" fill="#5c5c5c"/><rect x="589.43" y="72.00" width="2.0" height="1.51"/><rect x="590.81" y="73.38" width="2.0" height="8.02"/><rect x="592.19" y="80.52" width="2.0" height="1.02"/><rect x="593.57" y="81.16" width="2.0" height="0.90"/><rect x="595.05" y="78.15" width="1.8" height="3.52" fill="#5c5c5c"/><rect x="596.43" y="72.86" width="1.8" height="5.29" fill="#5c5c5c"/><rect x="597.81" y="67.34" width="1.8" height="5.52" fill="#5c5c5c"/><rect x="599.19" y="62.60" width="1.8" height="4.74" fill="#5c5c5c"/><rect x="600.47" y="63.51" width="2.0" height="1.80"/><rect x="601.85" y="65.28" width="2.0" height="0.90"/><rect x="603.23" y="65.88" width="2.0" height="0.90"/><rect x="604.61" y="66.50" width="2.0" height="2.80"/><rect x="605.99" y="69.30" width="2.0" height="5.57"/><rect x="607.37" y="74.87" width="2.0" height="9.73"/><rect x="608.85" y="78.03" width="1.8" height="5.14" fill="#5c5c5c"/><rect x="610.23" y="75.10" width="1.8" height="2.93" fill="#5c5c5c"/><rect x="611.51" y="75.72" width="2.0" height="0.90"/><rect x="612.89" y="76.54" width="2.0" height="1.76"/><rect x="614.27" y="77.97" width="2.0" height="3.29"/><rect x="615.65" y="81.26" width="2.0" height="6.44"/><rect x="617.03" y="87.19" width="2.0" height="0.94"/><rect x="618.41" y="87.70" width="2.0" height="6.12"/><rect x="619.79" y="93.82" width="2.0" height="8.70"/><rect x="621.17" y="102.52" width="2.0" height="11.02"/><rect x="622.55" y="113.54" width="2.0" height="7.46"/><rect x="624.03" y="109.94" width="1.8" height="6.06" fill="#5c5c5c"/><rect x="625.41" y="103.82" width="1.8" height="6.12" fill="#5c5c5c"/><rect x="626.79" y="101.55" width="1.8" height="2.27" fill="#5c5c5c"/><rect x="628.17" y="98.66" width="1.8" height="2.89" fill="#5c5c5c"/><rect x="629.45" y="98.66" width="2.0" height="1.92"/><rect x="630.83" y="100.58" width="2.0" height="4.42"/><rect x="632.21" y="103.69" width="2.0" height="6.03"/><rect x="633.59" y="109.73" width="2.0" height="3.66"/><rect x="634.97" y="112.95" width="2.0" height="0.90"/><rect x="636.45" y="109.04" width="1.8" height="6.16" fill="#5c5c5c"/><rect x="637.83" y="105.00" width="1.8" height="4.04" fill="#5c5c5c"/><rect x="639.21" y="105.00" width="1.8" height="0.90" fill="#5c5c5c"/><rect x="640.49" y="105.01" width="2.0" height="4.07"/><rect x="641.87" y="109.08" width="2.0" height="5.99"/><rect x="643.35" y="113.22" width="1.8" height="4.38" fill="#5c5c5c"/><rect x="644.73" y="109.70" width="1.8" height="3.52" fill="#5c5c5c"/><rect x="646.01" y="109.80" width="2.0" height="4.86"/><rect x="647.49" y="110.14" width="1.8" height="5.86" fill="#5c5c5c"/><rect x="648.87" y="105.00" width="1.8" height="5.14" fill="#5c5c5c"/><rect x="650.15" y="107.21" width="2.0" height="3.67"/><rect x="651.53" y="110.88" width="2.0" height="6.73"/><rect x="652.91" y="117.62" width="2.0" height="5.90"/><rect x="654.39" y="116.71" width="1.8" height="6.80" fill="#5c5c5c"/><rect x="655.77" y="113.56" width="1.8" height="3.15" fill="#5c5c5c"/><rect x="657.15" y="111.76" width="1.8" height="1.80" fill="#5c5c5c"/><rect x="658.53" y="110.81" width="1.8" height="0.96" fill="#5c5c5c"/><rect x="659.81" y="110.81" width="2.0" height="4.37"/><rect x="661.19" y="115.12" width="2.0" height="2.48"/><rect x="662.67" y="111.58" width="1.8" height="4.38" fill="#5c5c5c"/><rect x="664.05" y="109.70" width="1.8" height="1.88" fill="#5c5c5c"/><rect x="665.33" y="109.76" width="2.0" height="2.10"/><rect x="666.81" y="108.60" width="1.8" height="4.30" fill="#5c5c5c"/><rect x="668.19" y="104.12" width="1.8" height="4.48" fill="#5c5c5c"/><rect x="669.57" y="100.43" width="1.8" height="3.69" fill="#5c5c5c"/><rect x="670.85" y="100.30" width="2.0" height="4.62"/><rect x="672.23" y="104.92" width="2.0" height="3.28"/><rect x="673.61" y="107.97" width="2.0" height="2.00"/><rect x="675.09" y="108.05" width="1.8" height="1.92" fill="#5c5c5c"/><rect x="676.47" y="105.01" width="1.8" height="3.03" fill="#5c5c5c"/><rect x="677.85" y="104.05" width="1.8" height="0.96" fill="#5c5c5c"/><rect x="679.13" y="103.94" width="2.0" height="0.90"/><rect x="680.51" y="104.73" width="2.0" height="0.93"/><rect x="681.89" y="105.65" width="2.0" height="16.97"/><rect x="683.27" y="122.62" width="2.0" height="8.71"/><rect x="684.65" y="131.33" width="2.0" height="5.04"/><rect x="686.13" y="135.57" width="1.8" height="4.53" fill="#5c5c5c"/><rect x="687.51" y="129.17" width="1.8" height="6.49" fill="#5c5c5c"/><rect x="688.89" y="125.70" width="1.8" height="3.47" fill="#5c5c5c"/><rect x="690.27" y="115.37" width="1.8" height="11.33" fill="#5c5c5c"/><rect x="691.65" y="114.05" width="1.8" height="1.31" fill="#5c5c5c"/><rect x="693.03" y="112.02" width="1.8" height="2.03" fill="#5c5c5c"/><rect x="694.41" y="107.43" width="1.8" height="4.59" fill="#5c5c5c"/><rect x="695.79" y="102.69" width="1.8" height="4.75" fill="#5c5c5c"/><rect x="697.17" y="96.00" width="1.8" height="6.69" fill="#5c5c5c"/><rect x="698.55" y="89.09" width="1.8" height="6.91" fill="#5c5c5c"/><rect x="699.93" y="85.79" width="1.8" height="3.30" fill="#5c5c5c"/><rect x="701.21" y="85.40" width="2.0" height="2.98"/><rect x="702.59" y="88.38" width="2.0" height="4.25"/><rect x="703.97" y="92.49" width="2.0" height="1.31"/><rect x="705.45" y="92.57" width="1.8" height="0.90" fill="#5c5c5c"/><rect x="706.83" y="91.68" width="1.8" height="2.12" fill="#5c5c5c"/><rect x="708.21" y="90.58" width="1.8" height="1.11" fill="#5c5c5c"/><rect x="709.49" y="90.58" width="2.0" height="1.56"/><rect x="710.87" y="92.14" width="2.0" height="1.84"/><rect x="712.25" y="93.63" width="2.0" height="0.90"/><rect x="713.63" y="94.18" width="2.0" height="7.67"/><rect x="715.01" y="101.85" width="2.0" height="4.51"/><rect x="716.39" y="106.36" width="2.0" height="2.01"/><rect x="717.77" y="108.38" width="2.0" height="1.92"/><rect x="719.25" y="100.78" width="1.8" height="8.58" fill="#5c5c5c"/><rect x="720.53" y="99.30" width="2.0" height="5.86"/><rect x="721.91" y="105.16" width="2.0" height="3.28"/><rect x="723.29" y="108.44" width="2.0" height="5.84"/><rect x="724.67" y="114.28" width="2.0" height="7.17"/><rect x="726.05" y="121.45" width="2.0" height="10.55"/><rect x="727.53" y="122.73" width="1.8" height="7.26" fill="#5c5c5c"/><rect x="728.91" y="118.85" width="1.8" height="3.87" fill="#5c5c5c"/><rect x="730.29" y="116.60" width="1.8" height="2.65" fill="#5c5c5c"/><rect x="731.57" y="117.40" width="2.0" height="3.81"/><rect x="732.95" y="121.21" width="2.0" height="3.75"/><rect x="734.43" y="123.90" width="1.8" height="1.05" fill="#5c5c5c"/><rect x="735.81" y="122.90" width="1.8" height="1.22" fill="#5c5c5c"/><rect x="737.19" y="122.60" width="1.8" height="0.90" fill="#5c5c5c"/><rect x="738.57" y="119.49" width="1.8" height="3.16" fill="#5c5c5c"/><rect x="739.95" y="113.87" width="1.8" height="5.63" fill="#5c5c5c"/><rect x="741.33" y="102.48" width="1.8" height="11.38" fill="#5c5c5c"/><rect x="742.71" y="98.50" width="1.8" height="3.98" fill="#5c5c5c"/><rect x="744.09" y="95.61" width="1.8" height="3.39" fill="#5c5c5c"/><rect x="745.47" y="78.10" width="1.8" height="18.00" fill="#5c5c5c"/><rect x="746.75" y="78.14" width="2.0" height="0.90"/><rect x="748.13" y="77.30" width="2.0" height="5.95"/><rect x="749.51" y="83.25" width="2.0" height="1.17"/><rect x="750.89" y="84.39" width="2.0" height="0.90"/><rect x="752.37" y="83.54" width="1.8" height="1.73" fill="#5c5c5c"/><rect x="753.75" y="80.76" width="1.8" height="2.79" fill="#5c5c5c"/><rect x="755.13" y="77.30" width="1.8" height="3.46" fill="#5c5c5c"/><rect x="756.41" y="77.94" width="2.0" height="2.13"/><rect x="757.79" y="80.07" width="2.0" height="3.73"/><rect x="759.17" y="83.80" width="2.0" height="7.00"/><rect x="760.65" y="88.01" width="1.8" height="4.19" fill="#5c5c5c"/><rect x="761.93" y="85.10" width="2.0" height="6.62"/><rect x="763.41" y="89.27" width="1.8" height="3.73" fill="#5c5c5c"/><rect x="764.79" y="85.10" width="1.8" height="4.17" fill="#5c5c5c"/><rect x="766.07" y="86.47" width="2.0" height="5.44"/><rect x="767.45" y="91.91" width="2.0" height="9.58"/><rect x="768.83" y="101.49" width="2.0" height="2.99"/><rect x="770.31" y="103.11" width="1.8" height="2.49" fill="#5c5c5c"/><rect x="771.59" y="101.60" width="2.0" height="4.97"/><rect x="772.97" y="106.30" width="2.0" height="4.00"/><rect x="774.45" y="103.20" width="1.8" height="3.74" fill="#5c5c5c"/><rect x="775.73" y="105.85" width="2.0" height="5.25"/><rect x="777.21" y="104.00" width="1.8" height="4.91" fill="#5c5c5c"/><rect x="778.49" y="107.58" width="2.0" height="6.98"/><rect x="779.87" y="114.56" width="2.0" height="5.25"/><rect x="781.25" y="119.81" width="2.0" height="4.84"/><rect x="782.63" y="124.66" width="2.0" height="8.62"/><rect x="784.01" y="133.28" width="2.0" height="5.12"/><rect x="785.39" y="138.39" width="2.0" height="2.25"/><rect x="786.87" y="139.80" width="1.8" height="0.90" fill="#5c5c5c"/><rect x="788.15" y="139.86" width="2.0" height="3.69"/><rect x="789.63" y="142.70" width="1.8" height="1.08" fill="#5c5c5c"/><rect x="790.91" y="143.11" width="2.0" height="4.99"/><rect x="792.29" y="148.10" width="2.0" height="4.10"/><rect x="793.77" y="148.14" width="1.8" height="4.06" fill="#5c5c5c"/><rect x="795.15" y="142.43" width="1.8" height="5.72" fill="#5c5c5c"/><rect x="796.43" y="142.43" width="2.0" height="1.73"/><rect x="797.81" y="142.70" width="2.0" height="2.32"/><rect x="799.29" y="144.40" width="1.8" height="0.90" fill="#5c5c5c"/><rect x="800.57" y="144.73" width="2.0" height="3.47"/><rect x="801.95" y="147.28" width="2.0" height="4.66"/><rect x="803.43" y="148.63" width="1.8" height="5.07" fill="#5c5c5c"/><rect x="804.81" y="144.83" width="1.8" height="3.81" fill="#5c5c5c"/><rect x="806.09" y="144.83" width="2.0" height="11.57"/><rect x="807.47" y="155.95" width="2.0" height="3.25"/><rect x="808.95" y="148.92" width="1.8" height="7.49" fill="#5c5c5c"/><rect x="810.33" y="141.43" width="1.8" height="7.49" fill="#5c5c5c"/><rect x="811.71" y="139.60" width="1.8" height="1.83" fill="#5c5c5c"/><rect x="812.99" y="139.38" width="2.0" height="0.90"/><rect x="814.37" y="139.94" width="2.0" height="2.14"/><rect x="815.75" y="141.82" width="2.0" height="0.90"/><rect x="817.23" y="139.90" width="1.8" height="2.56" fill="#5c5c5c"/><rect x="818.61" y="137.83" width="1.8" height="2.07" fill="#5c5c5c"/><rect x="819.99" y="137.05" width="1.8" height="0.90" fill="#5c5c5c"/><rect x="821.27" y="137.17" width="2.0" height="7.62"/><rect x="822.75" y="143.68" width="1.8" height="2.22" fill="#5c5c5c"/><rect x="824.03" y="143.50" width="2.0" height="3.66"/><rect x="825.41" y="147.16" width="2.0" height="3.75"/><rect x="826.79" y="150.86" width="2.0" height="2.04"/><rect x="828.27" y="149.14" width="1.8" height="2.57" fill="#5c5c5c"/><rect x="829.65" y="146.29" width="1.8" height="2.85" fill="#5c5c5c"/><rect x="831.03" y="145.69" width="1.8" height="1.01" fill="#5c5c5c"/></g>
<g stroke="#666" stroke-width="0.6">
<line x1="155.6" y1="206.4" x2="155.6" y2="287"/>
<line x1="166.4" y1="356" x2="166.4" y2="397.5"/>
<line x1="169.3" y1="345" x2="169.3" y2="372.8"/>
<line x1="446" y1="94" x2="446" y2="109"/>
</g>
<rect x="831.9" y="134.9" width="1.3" height="11.8" fill="#888"/>
<line x1="832.55" y1="133.5" x2="832.55" y2="148.5" stroke="#888" stroke-width="0.6"/>

<line x1="970.7" y1="16" x2="970.7" y2="437.5" stroke="#666" stroke-width="1"/>
<line x1="6" y1="418.5" x2="1018" y2="418.5" stroke="#777" stroke-width="1"/>
<text x="916.6" y="28.3" font-size="7.6" fill="#333" text-anchor="start" font-weight="normal" textLength="49.1" lengthAdjust="spacingAndGlyphs">61.80%(0.75499)</text>
<text x="920.9" y="41.8" font-size="7.6" fill="#333" text-anchor="start" font-weight="normal" textLength="44.8" lengthAdjust="spacingAndGlyphs">0.00%(0.74645)</text>
<text x="920.9" y="80.6" font-size="7.6" fill="#ff3ef0" text-anchor="start" font-weight="normal" textLength="44.8" lengthAdjust="spacingAndGlyphs">0.00%(0.72185)</text>
<text x="917.4" y="167.3" font-size="7.6" fill="#333" text-anchor="start" font-weight="normal" textLength="48.3" lengthAdjust="spacingAndGlyphs">38.20%(0.67023)</text>
<text x="914.3" y="192.4" font-size="7.6" fill="#ff3ef0" text-anchor="start" font-weight="normal" textLength="51.4" lengthAdjust="spacingAndGlyphs">100.00%(0.65591)</text>
<text x="916.6" y="252.2" font-size="7.6" fill="#333" text-anchor="start" font-weight="normal" textLength="49.1" lengthAdjust="spacingAndGlyphs">61.80%(0.62313)</text>
<text x="914.3" y="267.1" font-size="7.6" fill="#ff3ef0" text-anchor="start" font-weight="normal" textLength="51.4" lengthAdjust="spacingAndGlyphs">161.80%(0.61516)</text>
<text x="914.3" y="404.5" font-size="7.6" fill="#222" text-anchor="start" font-weight="normal" textLength="51.4" lengthAdjust="spacingAndGlyphs">100.00%(0.54691)</text>
<text x="977" y="49.0" font-size="9.6" fill="#666" text-anchor="start" font-weight="normal" textLength="31.2" lengthAdjust="spacingAndGlyphs">0.74000</text>
<text x="977" y="80.80000000000001" font-size="9.6" fill="#666" text-anchor="start" font-weight="normal" textLength="31.2" lengthAdjust="spacingAndGlyphs">0.72000</text>
<text x="977" y="182.20000000000002" font-size="9.6" fill="#666" text-anchor="start" font-weight="normal" textLength="31.2" lengthAdjust="spacingAndGlyphs">0.66000</text>
<text x="977" y="218.1" font-size="9.6" fill="#666" text-anchor="start" font-weight="normal" textLength="31.2" lengthAdjust="spacingAndGlyphs">0.64000</text>
<text x="977" y="254.9" font-size="9.6" fill="#666" text-anchor="start" font-weight="normal" textLength="31.2" lengthAdjust="spacingAndGlyphs">0.62000</text>
<text x="977" y="283.7" font-size="9.6" fill="#666" text-anchor="start" font-weight="normal" textLength="31.2" lengthAdjust="spacingAndGlyphs">0.60500</text>
<text x="977" y="312.79999999999995" font-size="9.6" fill="#666" text-anchor="start" font-weight="normal" textLength="31.2" lengthAdjust="spacingAndGlyphs">0.59000</text>
<text x="977" y="342.79999999999995" font-size="9.6" fill="#666" text-anchor="start" font-weight="normal" textLength="31.2" lengthAdjust="spacingAndGlyphs">0.57500</text>
<text x="977" y="373.59999999999997" font-size="9.6" fill="#666" text-anchor="start" font-weight="normal" textLength="31.2" lengthAdjust="spacingAndGlyphs">0.56000</text>
<text x="977" y="398.79999999999995" font-size="9.6" fill="#666" text-anchor="start" font-weight="normal" textLength="31.2" lengthAdjust="spacingAndGlyphs">0.54800</text>
<rect x="984.3" y="18.7" width="19.6" height="11.7" rx="2" fill="#fff" stroke="#e0e3eb" stroke-width="1"/>
<text x="986.6" y="27.7" font-size="8.6" fill="#555" text-anchor="start" font-weight="normal" textLength="15.4" lengthAdjust="spacingAndGlyphs">USD</text>
<rect x="970.2" y="88" width="42.6" height="12.9" rx="1.2" fill="#ff0f0f"/>
<text x="976.8" y="98.05" font-size="9.6" fill="#fff" text-anchor="start" font-weight="bold" textLength="31.4" lengthAdjust="spacingAndGlyphs">0.70962</text>
<rect x="970.2" y="107.1" width="42.6" height="12.5" rx="1.2" fill="#000"/>
<text x="976.8" y="116.9" font-size="9.6" fill="#fff" text-anchor="start" font-weight="bold" textLength="31.4" lengthAdjust="spacingAndGlyphs">0.69797</text>
<rect x="970.2" y="121.7" width="42.6" height="12.3" rx="1.2" fill="#000"/>
<text x="976.8" y="131.8" font-size="9.6" fill="#fff" text-anchor="start" font-weight="bold" textLength="31.4" lengthAdjust="spacingAndGlyphs">0.68928</text>
<rect x="970.2" y="128.9" width="45.9" height="22.8" rx="1.2" fill="#000"/>
<text x="976.8" y="138.5" font-size="9.6" fill="#e8e8e8" text-anchor="start" font-weight="bold" textLength="31.4" lengthAdjust="spacingAndGlyphs">0.68512</text>
<text x="976.8" y="149.6" font-size="9.6" fill="#d8d8d8" text-anchor="start" font-weight="normal" textLength="33.9" lengthAdjust="spacingAndGlyphs">01:22:01</text>
<rect x="970.2" y="180.9" width="42.6" height="12.2" rx="1.2" fill="#000"/>
<text x="976.8" y="190.5" font-size="9.6" fill="#fff" text-anchor="start" font-weight="bold" textLength="31.4" lengthAdjust="spacingAndGlyphs">0.65529</text>
<text x="22.95" y="431.2" font-size="9" fill="#666" text-anchor="start" font-weight="normal" textLength="14.1" lengthAdjust="spacingAndGlyphs">Nov</text>
<text x="79.5" y="431.2" font-size="9.2" fill="#3a3a3a" text-anchor="start" font-weight="bold" textLength="20" lengthAdjust="spacingAndGlyphs">2020</text>
<text x="141.7" y="431.2" font-size="9" fill="#666" text-anchor="start" font-weight="normal" textLength="13.6" lengthAdjust="spacingAndGlyphs">Mar</text>
<text x="202.4" y="431.2" font-size="9" fill="#666" text-anchor="start" font-weight="normal" textLength="15.2" lengthAdjust="spacingAndGlyphs">May</text>
<text x="265.4" y="431.2" font-size="9" fill="#666" text-anchor="start" font-weight="normal" textLength="11.2" lengthAdjust="spacingAndGlyphs">Jul</text>
<text x="325.45" y="431.2" font-size="9" fill="#666" text-anchor="start" font-weight="normal" textLength="14.5" lengthAdjust="spacingAndGlyphs">Sep</text>
<text x="387.95" y="431.2" font-size="9" fill="#666" text-anchor="start" font-weight="normal" textLength="14.1" lengthAdjust="spacingAndGlyphs">Nov</text>
<text x="445" y="431.2" font-size="9.2" fill="#3a3a3a" text-anchor="start" font-weight="bold" textLength="20" lengthAdjust="spacingAndGlyphs">2021</text>
<text x="504.7" y="431.2" font-size="9" fill="#666" text-anchor="start" font-weight="normal" textLength="13.6" lengthAdjust="spacingAndGlyphs">Mar</text>
<text x="567.4" y="431.2" font-size="9" fill="#666" text-anchor="start" font-weight="normal" textLength="15.2" lengthAdjust="spacingAndGlyphs">May</text>
<text x="629.9" y="431.2" font-size="9" fill="#666" text-anchor="start" font-weight="normal" textLength="11.2" lengthAdjust="spacingAndGlyphs">Jul</text>
<text x="690.45" y="431.2" font-size="9" fill="#666" text-anchor="start" font-weight="normal" textLength="14.5" lengthAdjust="spacingAndGlyphs">Sep</text>
<text x="751.95" y="431.2" font-size="9" fill="#666" text-anchor="start" font-weight="normal" textLength="14.1" lengthAdjust="spacingAndGlyphs">Nov</text>
<text x="811.5" y="431.2" font-size="9.2" fill="#3a3a3a" text-anchor="start" font-weight="bold" textLength="20" lengthAdjust="spacingAndGlyphs">2022</text>
<text x="872.7" y="431.2" font-size="9" fill="#666" text-anchor="start" font-weight="normal" textLength="13.6" lengthAdjust="spacingAndGlyphs">Mar</text>
<text x="934.1" y="431.2" font-size="9" fill="#666" text-anchor="start" font-weight="normal" textLength="15.2" lengthAdjust="spacingAndGlyphs">May</text>
<text x="5.8" y="10.4" font-size="7.5" fill="#505050" text-anchor="start" font-weight="normal" textLength="200" lengthAdjust="spacingAndGlyphs">jsaettele published on TradingView.com, Jan 12, 2022 14:37 UTC-6</text>
<text x="10" y="25.7" font-size="7.5" fill="#747474" text-anchor="start" font-weight="normal" textLength="130.4" lengthAdjust="spacingAndGlyphs">New Zealand Dollar / U.S. Dollar, 1D, FXCM</text>
<text x="144.2" y="25.7" font-size="7.5" fill="#5a5a5a" textLength="27.5" lengthAdjust="spacingAndGlyphs">O<tspan fill="#2a2a2a">0.67837</tspan></text>
<text x="176.3" y="25.7" font-size="7.5" fill="#5a5a5a" textLength="27.7" lengthAdjust="spacingAndGlyphs">H<tspan fill="#2a2a2a">0.68538</tspan></text>
<text x="208.5" y="25.7" font-size="7.5" fill="#5a5a5a" textLength="26.3" lengthAdjust="spacingAndGlyphs">L<tspan fill="#2a2a2a">0.67728</tspan></text>
<text x="239.3" y="25.7" font-size="7.5" fill="#5a5a5a" textLength="26.7" lengthAdjust="spacingAndGlyphs">C<tspan fill="#2a2a2a">0.68512</tspan></text>
<text x="271.3" y="25.7" font-size="7.5" fill="#2a2a2a" text-anchor="start" font-weight="normal" textLength="53.5" lengthAdjust="spacingAndGlyphs">+0.00675 (+1.00%)</text>
<g fill="#131722"><path d="M5.6 444.9h4.5v6h-2.3v-3.5h-2.2z"/><circle cx="11.6" cy="446.1" r="1.05"/><path d="M13.5 444.9h2.9l-2.4 6h-2.8z"/></g>
<text x="18.9" y="450.9" font-size="7.6" fill="#444" text-anchor="start" font-weight="normal" textLength="38.9" lengthAdjust="spacingAndGlyphs">TradingView</text>
</svg>
</body></html>
